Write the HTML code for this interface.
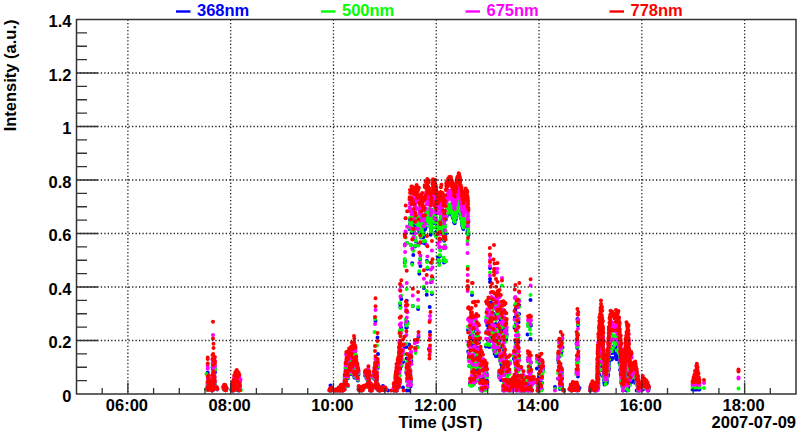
<!DOCTYPE html>
<html><head><meta charset="utf-8"><style>
html,body{margin:0;padding:0;background:#fff;width:800px;height:434px;overflow:hidden}
svg{display:block}
.t{font-family:"Liberation Sans",sans-serif;font-weight:bold;font-size:16.5px}
</style></head><body><svg width="800" height="434" viewBox="0 0 800 434"><path d="M207.7 372.5h0M207.5 388.2h0M207.6 385.0h0M207.8 381.4h0M207.8 384.8h0M208.0 385.0h0M208.1 390.0h0M208.3 380.7h0M208.3 384.3h0M208.4 380.8h0M208.5 385.5h0M208.7 382.7h0M208.8 380.7h0M209.0 387.0h0M212.5 367.5h0M212.5 384.1h0M212.7 381.0h0M212.7 370.0h0M212.8 383.8h0M212.9 379.5h0M213.0 367.0h0M213.0 373.9h0M213.1 379.0h0M213.2 366.7h0M213.3 378.6h0M213.4 370.6h0M213.5 384.1h0M213.6 385.5h0M213.6 389.7h0M213.7 383.6h0M213.8 378.1h0M213.9 386.5h0M213.9 388.1h0M214.0 388.7h0M214.1 371.6h0M214.2 370.2h0M214.3 388.4h0M214.3 383.4h0M214.4 382.1h0M214.5 371.2h0M214.6 381.4h0M214.6 383.9h0M214.8 384.4h0M214.8 372.8h0M214.9 368.8h0M215.0 372.1h0M209.4 388.6h0M209.6 385.5h0M209.8 384.9h0M210.0 386.9h0M210.2 385.8h0M210.5 384.4h0M210.7 387.1h0M210.9 384.7h0M211.0 389.6h0M211.3 384.5h0M211.4 389.1h0M211.8 387.4h0M211.8 387.7h0M212.1 390.5h0M212.3 385.7h0M212.6 388.6h0M212.8 386.2h0M213.0 388.6h0M216.4 389.1h0M216.8 388.4h0M217.0 388.9h0M217.3 389.4h0M223.4 388.0h0M223.6 388.0h0M224.0 389.5h0M224.0 387.2h0M224.2 386.9h0M224.6 389.7h0M224.8 387.3h0M224.9 389.9h0M225.2 388.8h0M225.3 387.0h0M225.5 390.3h0M225.8 388.1h0M226.0 390.2h0M226.2 389.1h0M226.3 388.8h0M226.5 388.9h0M231.5 390.0h0M231.8 390.3h0M231.8 390.4h0M232.1 386.3h0M232.3 388.1h0M232.5 385.0h0M232.8 384.8h0M233.0 385.2h0M233.1 388.1h0M233.2 390.5h0M233.6 390.3h0M233.7 383.6h0M234.0 390.3h0M234.2 384.4h0M234.2 380.9h0M234.4 386.6h0M234.6 383.7h0M234.9 384.9h0M235.1 387.3h0M235.2 379.3h0M235.5 378.6h0M235.8 385.2h0M235.8 380.5h0M236.0 389.7h0M236.4 381.3h0M236.5 377.5h0M236.7 388.5h0M236.8 377.2h0M237.1 389.4h0M237.3 383.8h0M237.5 378.3h0M237.6 381.8h0M237.9 379.1h0M238.0 384.3h0M238.3 385.4h0M238.6 383.6h0M238.6 379.0h0M238.9 380.2h0M239.1 386.2h0M239.4 380.2h0M239.6 384.2h0M239.8 390.3h0M239.9 387.5h0M238.6 390.6h0M329.5 390.4h0M329.8 389.4h0M330.0 389.5h0M330.5 388.6h0M330.6 389.7h0M330.9 390.5h0M331.3 388.2h0M330.5 385.5h0M335.0 390.4h0M335.1 390.5h0M335.4 390.3h0M335.6 390.2h0M335.7 389.9h0M336.1 390.1h0M336.3 389.7h0M336.5 389.6h0M336.7 389.6h0M336.8 389.6h0M337.0 389.5h0M337.3 389.7h0M337.4 389.6h0M337.5 390.5h0M337.9 389.3h0M338.0 389.9h0M338.1 390.2h0M338.4 390.2h0M338.6 388.6h0M338.8 388.1h0M339.0 389.2h0M339.2 388.0h0M339.4 390.3h0M339.6 388.0h0M339.9 390.4h0M339.9 388.3h0M340.1 390.3h0M340.3 390.2h0M340.7 386.3h0M340.7 390.5h0M341.1 386.0h0M341.2 389.8h0M341.4 386.0h0M341.6 388.7h0M341.8 390.0h0M341.9 386.9h0M342.3 388.8h0M342.4 386.4h0M342.6 386.4h0M342.7 386.8h0M342.9 390.5h0M343.2 390.0h0M343.5 385.7h0M343.6 388.8h0M343.8 385.9h0M344.0 386.4h0M344.1 389.6h0M344.5 389.6h0M344.6 382.5h0M344.7 378.0h0M345.0 382.5h0M345.1 384.1h0M345.4 375.0h0M345.6 368.2h0M345.7 368.6h0M346.0 382.2h0M346.3 368.8h0M346.4 365.6h0M346.6 364.3h0M346.9 366.1h0M347.0 364.0h0M347.1 376.6h0M347.4 364.8h0M347.6 386.0h0M347.7 386.2h0M348.1 365.0h0M347.9 378.3h0M348.3 359.1h0M348.4 361.8h0M348.7 359.7h0M348.8 374.3h0M349.1 357.0h0M349.4 371.6h0M349.6 374.2h0M349.8 357.0h0M350.1 370.0h0M350.2 361.9h0M350.4 356.7h0M350.7 374.1h0M350.9 369.0h0M351.0 362.5h0M351.2 355.4h0M351.5 360.9h0M351.7 357.3h0M351.9 352.2h0M352.2 356.1h0M352.4 371.6h0M352.5 357.3h0M352.9 364.5h0M353.0 369.6h0M353.4 354.4h0M353.6 367.2h0M353.6 364.5h0M354.0 351.7h0M353.9 376.0h0M354.3 349.0h0M354.4 377.5h0M354.6 354.0h0M354.7 364.1h0M355.0 375.5h0M355.1 376.9h0M355.3 354.9h0M355.6 356.3h0M355.7 368.5h0M356.1 377.9h0M356.3 363.6h0M356.4 366.9h0M356.5 377.0h0M356.7 370.6h0M357.1 370.3h0M357.3 368.9h0M357.4 370.1h0M357.6 374.8h0M357.8 380.4h0M358.0 373.2h0M358.2 372.8h0M358.5 374.4h0M358.6 389.6h0M358.7 387.0h0M359.2 390.1h0M359.5 388.2h0M359.8 387.9h0M359.9 390.1h0M360.4 390.3h0M360.6 388.6h0M360.9 389.0h0M361.2 390.3h0M361.5 390.1h0M361.9 390.4h0M362.0 387.6h0M362.5 389.6h0M362.6 390.2h0M362.9 387.1h0M363.3 389.0h0M363.6 387.6h0M364.0 387.8h0M364.5 386.6h0M364.7 386.6h0M364.9 375.2h0M365.1 374.9h0M365.4 386.6h0M365.7 375.6h0M365.9 374.3h0M366.0 376.3h0M366.2 375.3h0M366.5 378.3h0M366.7 375.7h0M366.8 387.1h0M367.2 374.7h0M367.3 379.5h0M367.5 385.0h0M367.7 380.3h0M368.1 386.5h0M368.2 380.6h0M368.4 371.2h0M368.7 384.1h0M368.9 381.8h0M369.2 384.9h0M369.4 378.0h0M369.5 375.4h0M369.8 378.1h0M370.0 387.5h0M370.0 390.4h0M370.2 388.8h0M370.6 384.7h0M370.9 386.1h0M371.2 389.7h0M371.6 390.6h0M371.7 389.8h0M372.0 387.9h0M372.5 387.8h0M372.8 386.4h0M372.9 387.4h0M373.9 375.4h0M374.1 378.7h0M374.4 372.4h0M374.6 373.4h0M374.8 387.0h0M375.1 369.5h0M375.2 368.5h0M375.4 386.1h0M375.5 363.1h0M375.9 383.0h0M376.0 377.5h0M376.3 371.3h0M376.3 388.5h0M376.5 380.4h0M376.7 381.9h0M377.0 376.2h0M377.1 379.2h0M377.4 385.4h0M377.7 365.4h0M377.7 368.0h0M378.0 388.1h0M378.2 386.0h0M378.4 390.2h0M375.5 321.0h0M377.5 337.5h0M378.0 354.0h0M379.6 389.2h0M379.8 390.6h0M380.0 388.5h0M380.3 388.5h0M380.6 388.6h0M381.0 387.9h0M381.2 388.8h0M381.7 388.9h0M381.8 389.9h0M382.2 388.6h0M382.6 390.0h0M382.9 389.3h0M383.2 388.8h0M383.3 388.0h0M383.8 389.0h0M384.0 389.1h0M384.3 390.3h0M384.7 388.4h0M384.8 388.0h0M385.3 388.1h0M385.4 389.8h0M385.8 389.7h0M383.0 386.0h0M388.0 390.5h0M396.6 390.6h0M396.7 390.6h0M394.8 390.6h0M394.1 390.2h0M395.1 390.6h0M393.6 390.6h0M394.7 390.6h0M397.1 384.4h0M396.3 388.2h0M394.4 385.8h0M394.6 390.6h0M395.4 384.1h0M395.9 382.9h0M396.9 390.6h0M396.5 384.8h0M395.8 378.7h0M395.7 376.7h0M395.6 376.5h0M397.5 379.0h0M396.6 377.5h0M396.3 374.5h0M396.0 380.1h0M399.0 372.5h0M396.6 384.4h0M397.2 375.7h0M399.4 373.1h0M398.1 374.1h0M396.4 372.7h0M398.6 370.0h0M396.5 371.1h0M399.9 367.5h0M400.1 368.9h0M400.7 365.0h0M400.1 364.1h0M397.6 365.5h0M398.1 367.6h0M398.8 368.2h0M398.6 364.6h0M399.0 363.0h0M401.3 366.0h0M400.4 358.5h0M400.6 359.8h0M400.2 357.6h0M401.8 361.9h0M399.1 357.2h0M399.0 353.3h0M398.9 356.6h0M399.5 352.8h0M402.9 354.2h0M400.0 354.9h0M399.7 353.7h0M403.1 362.1h0M400.5 349.7h0M403.1 350.3h0M396.0 390.1h0M396.3 390.0h0M396.5 382.8h0M396.8 388.0h0M397.3 383.7h0M397.4 382.7h0M397.8 381.7h0M398.0 387.6h0M398.3 385.0h0M398.7 387.5h0M399.0 386.0h0M399.4 381.4h0M399.5 383.4h0M400.0 381.9h0M403.0 387.5h0M406.4 372.8h0M406.7 358.5h0M406.9 390.6h0M407.1 370.7h0M407.3 380.9h0M407.6 372.7h0M407.6 380.6h0M408.0 378.1h0M408.0 380.0h0M408.3 363.1h0M408.4 379.2h0M408.7 372.0h0M408.8 365.3h0M409.0 380.5h0M409.3 390.6h0M409.5 368.7h0M409.8 362.9h0M409.8 361.5h0M410.0 382.0h0M410.4 373.8h0M410.6 386.2h0M410.7 360.3h0M410.9 356.0h0M411.1 381.5h0M411.2 357.0h0M411.4 361.2h0M409.0 344.5h0M418.5 337.0h0M430.0 332.0h0M429.0 349.0h0M429.7 307.0h0M399.5 343.2h0M399.7 341.3h0M400.0 303.8h0M400.4 307.0h0M400.6 331.6h0M401.0 327.4h0M401.3 298.9h0M404.6 346.9h0M404.7 262.6h0M404.9 262.3h0M405.1 261.3h0M405.5 244.1h0M405.7 233.3h0M405.9 324.2h0M406.0 324.7h0M406.2 327.7h0M406.4 346.9h0M406.7 300.7h0M406.8 327.4h0M407.1 243.1h0M407.4 322.1h0M409.5 228.9h0M409.6 226.1h0M409.9 219.6h0M410.1 223.0h0M410.3 227.3h0M410.4 221.4h0M410.7 221.1h0M410.9 245.1h0M411.1 218.9h0M411.3 228.5h0M411.4 218.4h0M411.7 232.7h0M411.8 229.1h0M412.1 216.9h0M412.2 263.2h0M412.6 228.6h0M412.8 306.0h0M413.0 231.5h0M413.1 224.4h0M413.3 255.1h0M413.5 223.1h0M413.7 218.9h0M413.9 237.0h0M414.2 222.3h0M414.3 224.0h0M414.4 233.1h0M414.7 223.8h0M414.8 348.2h0M415.0 246.6h0M415.2 239.5h0M415.2 225.8h0M415.4 222.5h0M415.6 222.3h0M415.8 241.4h0M415.8 218.4h0M416.0 222.9h0M416.2 219.7h0M416.3 218.8h0M416.6 217.9h0M416.7 217.0h0M416.9 217.6h0M416.9 226.6h0M417.0 218.9h0M417.2 226.7h0M417.4 347.1h0M417.7 221.3h0M417.7 218.5h0M418.1 308.9h0M418.2 221.7h0M418.4 244.6h0M418.6 230.1h0M418.9 217.7h0M419.1 225.1h0M419.3 231.4h0M419.3 273.7h0M419.6 229.9h0M419.9 224.8h0M420.0 232.4h0M420.2 259.2h0M420.4 265.9h0M420.6 227.2h0M420.8 229.9h0M421.0 237.6h0M421.3 223.6h0M421.5 231.5h0M421.5 228.7h0M421.8 233.8h0M422.1 229.7h0M422.2 224.2h0M422.4 234.6h0M422.6 235.5h0M422.8 235.5h0M423.1 237.4h0M423.3 234.9h0M423.4 242.8h0M423.5 235.8h0M423.8 236.2h0M424.0 230.6h0M423.9 288.0h0M424.3 234.7h0M424.4 227.0h0M424.7 215.5h0M424.8 217.7h0M425.0 243.6h0M425.1 229.2h0M425.5 216.7h0M425.6 214.0h0M425.7 227.3h0M426.0 217.2h0M426.2 218.2h0M426.3 222.0h0M426.7 215.7h0M426.7 294.7h0M426.9 261.1h0M427.3 212.2h0M427.4 268.7h0M427.5 220.1h0M427.8 213.6h0M428.0 212.8h0M428.3 217.4h0M428.3 223.0h0M428.7 213.2h0M428.7 211.7h0M428.9 223.5h0M429.3 220.3h0M429.4 218.3h0M429.7 218.9h0M429.9 222.4h0M430.1 223.0h0M430.2 224.2h0M430.4 227.0h0M430.6 234.8h0M430.9 282.2h0M431.0 230.9h0M431.2 229.9h0M431.3 222.0h0M431.6 228.3h0M431.9 294.0h0M431.9 262.8h0M432.1 220.8h0M432.5 278.3h0M432.6 214.9h0M432.9 212.9h0M433.1 210.1h0M432.9 217.4h0M433.2 220.4h0M433.5 216.1h0M433.6 220.3h0M433.7 218.1h0M433.9 222.9h0M434.2 213.4h0M434.3 219.5h0M434.5 233.5h0M434.8 221.2h0M434.9 213.6h0M435.2 232.6h0M435.4 222.8h0M435.4 211.3h0M435.6 218.7h0M435.8 217.4h0M436.1 235.8h0M436.2 221.4h0M436.4 221.1h0M436.7 231.6h0M436.8 222.2h0M437.1 226.7h0M437.3 224.0h0M437.3 226.7h0M437.6 226.9h0M437.8 231.9h0M437.9 257.6h0M438.2 222.1h0M438.2 225.9h0M438.5 223.7h0M438.6 232.7h0M438.8 223.9h0M439.2 262.4h0M439.2 224.7h0M439.4 261.7h0M439.7 229.0h0M439.8 256.3h0M440.1 224.4h0M440.3 247.7h0M440.4 249.4h0M440.7 220.9h0M440.8 217.1h0M441.0 219.4h0M441.2 229.5h0M441.4 216.6h0M441.5 229.8h0M441.7 223.7h0M442.0 228.3h0M442.1 227.2h0M442.3 228.1h0M442.5 225.6h0M442.7 230.5h0M442.9 239.3h0M443.1 233.9h0M443.3 234.0h0M443.5 228.8h0M443.6 260.1h0M443.9 230.8h0M444.0 262.6h0M444.2 240.7h0M444.4 233.3h0M444.5 239.2h0M444.8 248.0h0M445.0 230.2h0M445.1 226.2h0M445.4 261.1h0M445.6 261.4h0M445.8 233.7h0M445.8 219.4h0M446.1 217.1h0M446.2 211.9h0M446.3 213.9h0M446.5 211.5h0M446.5 216.9h0M446.7 211.0h0M446.8 211.3h0M447.0 215.0h0M447.2 213.5h0M447.4 211.5h0M447.5 213.2h0M447.6 210.3h0M447.8 214.7h0M448.0 212.8h0M448.1 208.4h0M448.2 207.9h0M448.5 213.1h0M448.6 210.5h0M448.8 210.9h0M448.9 208.6h0M449.0 209.3h0M449.2 211.9h0M449.2 206.4h0M449.5 210.0h0M449.6 207.4h0M449.7 210.5h0M449.9 207.9h0M450.1 207.7h0M450.2 209.1h0M450.4 211.9h0M450.5 211.2h0M450.6 211.9h0M450.9 208.4h0M450.9 206.3h0M451.0 210.9h0M451.2 208.6h0M451.5 212.5h0M451.6 209.1h0M451.7 212.0h0M451.8 210.9h0M451.9 214.9h0M452.2 215.2h0M452.4 212.6h0M452.4 210.7h0M452.6 216.1h0M452.7 217.6h0M452.9 211.7h0M453.0 215.0h0M453.3 217.8h0M453.4 214.4h0M453.5 219.1h0M453.7 217.4h0M453.8 219.0h0M454.0 222.3h0M454.2 217.8h0M454.3 218.1h0M454.5 222.6h0M454.5 216.9h0M454.7 223.3h0M454.9 218.2h0M455.0 215.8h0M455.2 217.7h0M455.3 217.0h0M455.4 218.4h0M455.5 213.6h0M455.8 219.4h0M455.9 215.5h0M456.1 215.6h0M456.1 216.3h0M456.3 214.6h0M456.5 216.3h0M456.7 211.7h0M456.8 209.9h0M457.0 207.3h0M457.0 211.1h0M457.2 208.1h0M457.5 211.5h0M457.5 206.4h0M457.7 205.9h0M457.8 210.4h0M458.0 209.4h0M458.1 208.4h0M458.3 206.0h0M458.4 206.2h0M458.6 203.5h0M458.8 207.0h0M458.9 203.6h0M459.0 208.7h0M459.2 204.4h0M459.3 206.5h0M459.5 207.4h0M459.6 212.7h0M459.9 206.6h0M459.9 212.0h0M460.2 209.5h0M460.2 210.6h0M460.4 208.8h0M460.5 214.3h0M460.7 213.6h0M460.8 214.1h0M461.0 217.8h0M461.1 218.6h0M461.4 215.5h0M461.5 215.6h0M461.7 218.1h0M461.8 220.7h0M461.9 222.7h0M462.0 223.6h0M462.3 225.3h0M462.4 226.2h0M462.5 221.2h0M462.7 222.2h0M462.9 226.3h0M463.0 228.3h0M463.1 225.5h0M463.3 228.2h0M463.4 229.1h0M463.6 226.8h0M463.7 222.1h0M463.9 227.0h0M464.0 224.7h0M464.2 224.6h0M464.4 220.7h0M464.4 225.4h0M464.5 221.9h0M464.8 219.7h0M464.9 225.5h0M465.1 219.0h0M465.2 219.0h0M465.4 222.2h0M465.5 216.6h0M465.7 216.4h0M465.8 218.1h0M465.9 218.0h0M466.2 221.3h0M466.3 219.2h0M466.5 219.3h0M466.6 222.4h0M466.7 222.5h0M466.8 221.1h0M467.1 218.3h0M467.2 222.6h0M467.4 219.4h0M467.5 223.0h0M467.6 224.2h0M467.7 226.4h0M467.9 225.1h0M468.1 229.9h0M468.1 227.4h0M468.4 233.0h0M468.5 235.0h0M467.5 232.0h0M472.0 295.0h0M468.0 330.0h0M468.2 351.4h0M468.6 330.3h0M468.7 357.7h0M469.0 354.6h0M469.3 366.1h0M469.5 329.9h0M469.7 351.1h0M469.8 341.9h0M470.3 336.5h0M470.3 361.3h0M470.7 356.9h0M471.0 333.3h0M471.1 338.0h0M471.3 339.6h0M471.7 328.9h0M471.9 332.9h0M472.1 368.8h0M472.3 368.8h0M472.7 345.7h0M472.9 327.1h0M473.1 339.8h0M473.3 362.0h0M473.6 344.9h0M473.7 324.9h0M474.1 353.9h0M470.0 383.8h0M470.6 385.0h0M471.1 383.4h0M471.9 379.1h0M472.2 385.2h0M473.1 370.7h0M473.7 379.3h0M474.2 383.1h0M474.5 380.1h0M475.5 380.5h0M476.0 381.2h0M474.5 337.8h0M474.7 327.5h0M475.0 356.5h0M475.3 355.5h0M475.8 331.2h0M476.1 369.1h0M476.4 363.5h0M476.5 334.6h0M476.9 343.3h0M477.2 358.0h0M477.6 348.1h0M477.7 341.7h0M478.2 354.4h0M478.3 337.7h0M478.7 368.9h0M479.0 342.8h0M479.4 367.2h0M479.6 353.6h0M479.9 364.9h0M480.3 352.5h0M480.6 358.0h0M480.9 361.0h0M479.0 375.9h0M479.2 379.7h0M479.5 365.7h0M480.0 368.8h0M480.1 388.6h0M480.4 370.6h0M480.7 383.0h0M481.0 369.1h0M481.4 390.5h0M481.6 390.6h0M482.1 363.7h0M482.4 390.6h0M482.7 379.0h0M483.0 362.8h0M483.3 387.6h0M483.6 370.1h0M483.9 370.0h0M484.1 382.5h0M484.3 375.8h0M484.6 370.9h0M484.9 370.3h0M485.2 388.9h0M485.5 386.2h0M485.9 369.6h0M486.3 373.8h0M486.4 385.6h0M486.7 373.4h0M487.1 380.7h0M487.4 384.3h0M486.0 346.4h0M486.1 320.8h0M486.5 331.6h0M486.9 321.4h0M487.2 320.7h0M487.3 325.2h0M487.7 322.5h0M488.1 343.0h0M488.3 345.1h0M488.4 328.5h0M488.8 324.9h0M489.0 317.9h0M489.3 347.0h0M489.5 341.6h0M490.0 328.4h0M490.3 334.6h0M490.4 334.6h0M490.8 333.7h0M491.2 325.6h0M491.2 337.1h0M491.7 324.9h0M491.8 340.8h0M492.2 329.8h0M492.5 325.1h0M492.7 318.5h0M492.9 339.5h0M493.3 346.1h0M493.5 347.4h0M493.7 349.7h0M494.1 350.5h0M494.3 348.5h0M494.6 353.7h0M495.0 334.9h0M495.2 335.7h0M495.5 313.7h0M495.9 324.1h0M496.0 356.3h0M496.3 350.8h0M496.8 315.3h0M496.9 313.8h0M497.3 328.5h0M497.5 327.9h0M497.6 318.1h0M498.1 340.4h0M498.3 343.4h0M498.5 355.9h0M498.8 354.4h0M499.0 314.1h0M499.4 316.6h0M499.6 341.7h0M499.9 322.4h0M500.2 330.8h0M500.7 325.1h0M500.8 320.5h0M501.0 347.0h0M501.5 323.9h0M501.7 329.9h0M501.8 332.1h0M502.4 354.7h0M502.5 335.9h0M502.8 326.0h0M503.2 331.9h0M503.3 319.2h0M503.7 349.8h0M504.0 353.2h0M504.2 329.1h0M504.5 323.6h0M504.9 338.4h0M504.9 323.9h0M505.2 339.4h0M505.5 325.0h0M506.0 339.7h0M506.3 333.8h0M506.4 336.9h0M506.7 334.4h0M490.0 268.0h0M490.0 279.0h0M490.0 282.0h0M490.7 302.4h0M491.7 305.0h0M493.0 304.1h0M494.5 307.7h0M496.1 300.8h0M497.5 308.0h0M498.6 305.9h0M499.6 304.4h0M499.2 376.3h0M499.5 373.9h0M499.7 357.8h0M500.3 360.9h0M501.0 380.1h0M501.2 364.2h0M501.8 367.4h0M502.2 371.8h0M502.5 375.2h0M503.1 371.8h0M503.6 366.8h0M504.2 359.2h0M504.3 368.3h0M504.7 357.8h0M505.1 358.7h0M505.9 365.7h0M506.0 372.5h0M506.5 364.4h0M507.1 374.0h0M507.5 369.9h0M507.9 366.2h0M508.4 374.5h0M508.7 364.6h0M509.4 372.9h0M510.0 362.9h0M503.2 390.4h0M503.7 386.2h0M504.1 390.6h0M504.6 382.2h0M504.9 381.9h0M505.1 386.3h0M505.6 388.3h0M506.2 382.5h0M506.6 389.8h0M506.9 389.3h0M507.6 387.8h0M507.7 385.7h0M508.5 384.8h0M508.9 385.8h0M509.1 390.6h0M509.9 384.0h0M510.1 388.2h0M510.7 381.2h0M511.1 390.6h0M511.7 390.0h0M511.8 382.5h0M512.3 389.0h0M512.7 384.9h0M513.4 383.8h0M513.7 389.9h0M514.2 384.7h0M514.8 387.8h0M514.5 327.7h0M514.8 317.4h0M515.1 350.5h0M515.4 309.4h0M515.7 343.0h0M516.0 324.1h0M516.3 350.7h0M516.6 320.9h0M516.9 331.4h0M517.3 336.1h0M517.5 357.1h0M517.9 321.2h0M518.2 352.3h0M518.5 342.1h0M518.6 322.3h0M519.1 314.0h0M519.3 305.4h0M513.0 381.4h0M513.2 389.1h0M513.5 385.9h0M513.9 358.8h0M514.2 389.0h0M514.4 380.3h0M514.9 362.8h0M515.0 360.7h0M515.3 381.6h0M515.7 368.1h0M516.1 375.3h0M516.2 386.8h0M516.6 390.6h0M517.0 352.7h0M517.1 369.1h0M517.6 370.9h0M517.7 385.8h0M518.0 368.3h0M518.3 380.4h0M518.8 358.8h0M519.1 369.6h0M521.0 390.6h0M521.2 375.4h0M521.9 379.8h0M522.0 390.6h0M522.6 390.6h0M522.9 388.5h0M523.5 377.8h0M523.7 389.8h0M524.2 390.6h0M515.7 380.0h0M516.7 389.8h0M517.4 387.2h0M517.7 385.5h0M518.5 386.7h0M518.9 382.0h0M519.5 390.6h0M520.4 386.3h0M520.6 390.6h0M521.4 381.7h0M522.1 388.3h0M522.7 387.2h0M523.1 390.6h0M523.9 382.9h0M524.3 390.6h0M524.8 390.6h0M525.5 390.6h0M526.4 386.1h0M526.5 381.9h0M527.7 389.7h0M527.8 390.6h0M528.6 390.4h0M529.1 382.3h0M530.1 384.6h0M530.5 387.5h0M531.2 381.8h0M531.8 390.6h0M532.1 390.6h0M532.8 378.6h0M533.4 380.9h0M533.9 382.7h0M527.8 359.6h0M528.2 361.0h0M528.6 370.9h0M529.0 390.6h0M529.4 376.6h0M529.7 361.0h0M530.0 366.9h0M530.4 388.3h0M530.9 362.4h0M531.1 376.5h0M531.4 385.7h0M530.5 300.0h0M527.5 334.5h0M530.5 339.0h0M528.0 325.2h0M528.3 325.8h0M528.6 325.3h0M529.0 325.5h0M529.8 324.4h0M530.2 325.1h0M530.4 325.7h0M531.0 325.5h0M536.9 368.6h0M537.3 382.4h0M537.6 390.6h0M537.8 388.8h0M538.2 388.2h0M538.6 387.8h0M538.9 376.4h0M539.1 361.8h0M539.5 365.5h0M539.7 390.6h0M540.1 380.5h0M540.4 372.2h0M540.6 387.8h0M541.0 372.2h0M541.3 389.9h0M541.5 360.4h0M541.7 388.9h0M542.0 383.0h0M542.3 364.9h0M542.8 368.2h0M543.1 369.3h0M555.0 387.0h0M558.1 378.6h0M558.1 360.1h0M558.4 357.2h0M558.6 362.6h0M558.9 367.0h0M559.0 346.6h0M559.2 373.7h0M559.4 346.3h0M559.5 356.4h0M559.9 388.9h0M560.0 380.0h0M560.3 372.1h0M560.3 385.1h0M560.5 367.1h0M560.7 341.7h0M561.1 353.2h0M561.1 351.3h0M561.4 382.2h0M561.6 351.5h0M561.8 372.8h0M562.0 378.6h0M562.1 387.0h0M562.5 347.2h0M563.0 389.8h0M563.4 389.9h0M563.7 390.4h0M563.8 390.6h0M569.6 389.5h0M569.7 388.8h0M569.9 388.5h0M570.2 389.4h0M570.2 388.6h0M570.5 388.0h0M570.8 385.4h0M571.0 385.8h0M571.1 386.4h0M571.2 385.4h0M571.4 388.8h0M571.6 390.5h0M571.9 387.6h0M572.2 387.9h0M572.2 384.9h0M572.5 386.3h0M572.8 383.0h0M573.0 389.4h0M573.1 388.8h0M573.2 386.7h0M573.4 383.8h0M573.8 385.2h0M573.9 388.8h0M574.2 390.0h0M574.3 385.9h0M574.4 386.4h0M574.8 383.6h0M574.9 389.1h0M575.2 388.1h0M575.3 389.2h0M575.6 390.1h0M575.8 384.4h0M576.0 385.3h0M576.0 388.6h0M576.3 385.5h0M576.5 385.7h0M576.8 385.1h0M576.9 384.7h0M577.1 389.9h0M577.3 387.1h0M577.4 388.1h0M577.7 386.5h0M577.9 386.6h0M578.1 387.9h0M578.3 387.9h0M578.4 390.2h0M579.5 388.0h0M576.5 373.4h0M576.6 344.0h0M576.8 363.9h0M576.8 390.6h0M577.0 359.6h0M577.1 342.0h0M577.3 348.0h0M577.4 319.1h0M577.4 346.7h0M577.6 345.4h0M577.7 372.9h0M577.9 376.5h0M578.0 334.6h0M578.0 325.2h0M578.2 359.1h0M578.3 324.6h0M578.4 357.5h0M590.1 390.5h0M590.1 390.4h0M590.4 388.4h0M590.7 388.0h0M590.7 389.0h0M591.1 389.0h0M591.1 387.0h0M591.4 388.9h0M591.7 387.4h0M591.8 387.1h0M592.0 389.0h0M592.2 389.2h0M592.4 385.4h0M592.5 387.3h0M592.9 389.8h0M593.0 390.1h0M593.2 389.1h0M593.4 387.3h0M593.7 386.0h0M593.7 386.1h0M594.0 388.3h0M594.2 386.3h0M594.4 386.9h0M594.7 390.4h0M594.9 388.5h0M595.1 386.2h0M595.3 387.2h0M595.4 389.3h0M595.5 386.4h0M595.8 388.5h0M595.9 389.3h0M596.1 389.1h0M596.4 389.8h0M596.6 387.5h0M596.8 389.0h0M597.0 388.5h0M596.7 390.6h0M598.0 388.2h0M597.8 386.4h0M598.1 384.5h0M597.7 386.8h0M598.2 387.0h0M597.3 383.7h0M597.2 382.0h0M597.5 385.0h0M598.4 385.6h0M598.0 383.8h0M598.4 383.0h0M597.5 380.6h0M597.3 379.5h0M597.7 380.4h0M598.1 378.0h0M597.6 376.0h0M597.8 380.6h0M598.5 376.1h0M598.2 375.7h0M597.2 377.0h0M597.5 377.2h0M598.4 373.0h0M599.1 374.7h0M598.1 372.1h0M597.5 374.6h0M597.9 371.3h0M597.6 371.8h0M598.0 368.1h0M597.7 370.2h0M598.6 369.2h0M599.0 370.1h0M597.8 366.1h0M599.4 364.6h0M599.5 364.2h0M599.1 362.8h0M599.5 364.7h0M598.8 362.8h0M599.1 366.0h0M598.4 367.7h0M598.2 361.1h0M599.8 359.9h0M599.5 358.5h0M600.0 358.5h0M599.4 358.2h0M599.9 360.4h0M598.9 360.0h0M600.3 355.6h0M599.2 355.7h0M599.8 353.7h0M599.7 353.2h0M600.2 355.0h0M599.2 354.9h0M599.9 354.8h0M599.5 350.0h0M599.3 353.7h0M600.0 354.9h0M600.5 351.6h0M601.1 348.9h0M600.5 347.1h0M601.1 345.8h0M600.6 344.6h0M601.6 344.2h0M601.1 346.6h0M602.0 349.5h0M601.8 346.2h0M602.1 351.6h0M602.2 346.5h0M600.6 350.3h0M600.8 348.2h0M601.8 351.3h0M600.7 349.5h0M601.5 351.5h0M601.7 350.3h0M602.2 352.3h0M602.4 351.4h0M602.9 353.9h0M601.2 353.7h0M602.2 352.8h0M602.9 355.8h0M601.8 357.0h0M601.4 359.7h0M603.2 356.1h0M602.0 359.1h0M603.1 357.5h0M601.5 360.8h0M603.4 359.4h0M602.6 364.3h0M602.8 360.3h0M602.8 362.9h0M602.7 364.5h0M602.4 362.5h0M603.8 364.9h0M603.6 369.5h0M602.8 367.4h0M603.2 370.3h0M603.0 365.3h0M602.6 366.6h0M603.0 369.8h0M603.6 373.6h0M602.7 369.8h0M603.3 370.6h0M602.6 370.2h0M604.0 374.2h0M603.7 371.8h0M604.3 371.7h0M603.1 376.2h0M605.1 375.3h0M604.8 375.6h0M604.9 377.3h0M604.3 375.5h0M604.3 376.6h0M605.6 379.0h0M604.0 380.3h0M604.6 384.5h0M604.2 382.8h0M604.2 379.1h0M604.8 380.8h0M604.5 382.8h0M606.1 382.6h0M605.7 382.9h0M605.1 381.2h0M606.9 381.5h0M606.7 383.2h0M605.3 380.0h0M606.1 378.1h0M606.8 379.4h0M605.7 376.2h0M606.9 377.1h0M606.8 376.5h0M607.7 376.0h0M608.0 375.9h0M607.9 374.1h0M608.1 373.1h0M607.4 371.1h0M606.5 373.4h0M608.2 374.3h0M608.1 373.6h0M607.5 371.8h0M607.5 369.2h0M608.0 368.6h0M608.8 369.5h0M608.6 369.6h0M608.7 370.2h0M608.2 364.7h0M609.0 368.2h0M608.1 364.8h0M608.4 362.6h0M608.5 363.5h0M608.6 361.4h0M608.9 364.1h0M609.0 362.7h0M608.8 366.6h0M608.7 360.6h0M609.8 358.1h0M608.7 358.3h0M609.3 360.8h0M608.8 361.2h0M608.9 357.9h0M609.9 358.3h0M609.9 357.8h0M609.4 359.5h0M610.3 352.3h0M610.2 352.0h0M609.5 351.7h0M610.4 351.6h0M610.0 350.0h0M610.2 348.9h0M611.7 349.1h0M611.1 347.8h0M612.2 353.1h0M611.8 349.5h0M612.4 347.0h0M613.1 347.7h0M614.1 351.8h0M615.5 349.6h0M614.3 351.4h0M614.3 352.3h0M615.1 350.1h0M616.5 348.9h0M616.5 348.2h0M616.0 349.5h0M618.4 346.7h0M618.0 350.0h0M617.6 355.8h0M618.2 350.2h0M619.1 353.2h0M618.9 353.8h0M618.5 353.2h0M618.7 354.7h0M618.4 355.2h0M619.8 354.5h0M619.4 357.5h0M619.4 354.3h0M619.2 359.7h0M618.6 356.1h0M619.9 356.7h0M618.8 357.8h0M619.5 359.5h0M619.0 359.0h0M620.8 360.7h0M619.9 361.4h0M619.4 363.0h0M620.6 362.5h0M620.1 361.8h0M620.5 364.6h0M621.5 366.8h0M620.8 368.7h0M621.2 367.9h0M620.4 365.3h0M620.6 366.7h0M620.4 370.4h0M621.5 369.1h0M620.1 369.9h0M621.7 369.4h0M620.9 370.2h0M621.2 371.5h0M620.9 373.0h0M620.8 373.4h0M621.8 373.8h0M620.8 374.8h0M622.4 379.1h0M622.3 378.1h0M621.9 378.6h0M621.7 381.3h0M621.7 378.4h0M621.8 383.9h0M622.6 380.0h0M621.2 381.3h0M621.3 382.9h0M621.6 381.7h0M622.5 382.1h0M621.8 384.6h0M621.4 381.9h0M622.8 387.8h0M622.8 383.8h0M622.6 387.2h0M623.1 387.8h0M622.9 387.2h0M623.2 388.0h0M622.7 387.6h0M623.0 390.6h0M623.4 387.7h0M623.3 385.6h0M623.6 390.1h0M623.9 385.1h0M624.1 384.0h0M624.4 386.8h0M624.1 384.8h0M623.8 382.9h0M624.2 383.4h0M623.5 383.0h0M624.7 380.4h0M624.2 380.3h0M624.8 379.4h0M624.7 379.0h0M624.8 377.9h0M624.9 378.0h0M624.8 377.0h0M625.7 379.8h0M624.4 375.1h0M625.7 374.6h0M624.9 376.6h0M624.4 371.9h0M625.7 372.8h0M625.9 371.9h0M624.8 372.0h0M625.1 372.8h0M626.5 373.3h0M626.0 371.9h0M625.2 369.8h0M626.2 369.5h0M625.9 372.1h0M626.3 368.5h0M626.1 367.5h0M625.4 365.0h0M627.2 363.7h0M625.8 365.3h0M625.5 362.9h0M625.6 364.1h0M626.2 361.9h0M626.6 360.0h0M626.9 361.0h0M626.8 361.4h0M626.5 359.9h0M627.9 357.5h0M627.7 356.2h0M627.6 358.3h0M627.2 358.7h0M627.8 355.4h0M626.9 355.5h0M626.5 358.6h0M628.4 358.3h0M627.6 358.6h0M628.5 354.6h0M627.8 356.7h0M627.4 361.1h0M627.5 357.1h0M628.4 357.9h0M627.7 364.1h0M628.7 360.5h0M628.2 359.3h0M627.8 364.3h0M628.5 367.4h0M627.8 365.4h0M628.8 362.5h0M627.6 367.7h0M629.0 364.9h0M628.5 366.8h0M628.9 365.9h0M628.0 366.8h0M628.5 368.1h0M629.1 368.5h0M628.6 369.7h0M628.8 370.7h0M629.9 370.1h0M629.7 370.7h0M628.7 376.3h0M630.1 373.0h0M629.0 371.4h0M629.4 375.5h0M629.5 375.6h0M629.1 377.1h0M629.5 377.0h0M630.8 375.2h0M629.6 380.0h0M630.0 380.0h0M631.3 382.2h0M631.1 380.3h0M630.4 380.2h0M630.5 383.0h0M630.6 380.1h0M631.0 379.2h0M631.1 381.5h0M632.2 381.6h0M632.9 379.5h0M632.8 378.1h0M633.3 377.1h0M634.4 377.5h0M635.2 379.2h0M635.3 380.6h0M635.7 378.7h0M635.6 376.4h0M636.0 379.7h0M636.8 381.9h0M635.3 382.9h0M636.6 383.6h0M636.8 380.8h0M636.9 383.5h0M636.4 382.2h0M637.3 382.1h0M638.2 382.9h0M636.6 390.6h0M638.4 385.7h0M638.5 386.8h0M638.3 386.6h0M638.1 390.6h0M638.6 390.3h0M638.9 390.0h0M639.5 390.6h0M638.2 389.3h0M639.4 390.6h0M641.2 389.8h0M640.3 390.3h0M640.9 389.9h0M641.7 389.8h0M641.4 389.6h0M643.2 385.6h0M642.9 389.6h0M642.7 388.2h0M642.7 388.6h0M644.2 384.6h0M644.2 386.4h0M645.9 387.3h0M646.7 388.1h0M647.7 386.9h0M646.6 388.5h0M647.1 387.2h0M648.4 390.6h0M647.7 390.4h0M610.3 353.6h0M610.5 346.4h0M611.7 359.6h0M612.8 349.9h0M613.0 358.0h0M613.7 349.3h0M614.6 352.9h0M615.9 355.7h0M616.7 359.3h0M617.6 346.5h0M618.0 352.2h0M619.2 355.3h0M621.0 374.7h0M621.9 385.3h0M622.9 374.3h0M624.1 363.3h0M625.2 361.6h0M626.3 383.5h0M626.7 390.6h0M628.4 387.3h0M628.6 383.7h0M630.2 381.9h0M631.1 370.3h0M631.7 364.4h0M641.9 388.3h0M642.3 386.4h0M642.7 386.8h0M643.0 385.4h0M643.2 386.9h0M643.4 385.4h0M643.9 384.8h0M644.0 384.6h0M644.4 387.6h0M644.7 386.0h0M644.9 387.9h0M645.3 388.1h0M645.5 386.0h0M645.9 385.1h0M646.1 384.9h0M646.5 387.9h0M646.9 387.8h0M647.1 386.3h0M647.4 386.6h0M647.6 387.3h0M648.1 388.2h0M648.2 387.7h0M648.5 387.9h0M648.9 388.4h0M692.5 389.5h0M692.6 389.6h0M692.7 389.4h0M692.8 389.5h0M692.9 389.6h0M693.0 389.6h0M693.1 389.6h0M693.2 389.5h0M693.3 389.5h0M693.4 389.5h0M693.5 389.1h0M693.6 389.0h0M693.7 389.0h0M693.8 389.3h0M693.9 389.2h0M694.0 389.4h0M694.1 389.4h0M694.2 388.9h0M694.3 388.7h0M694.4 389.6h0M694.5 389.0h0M694.6 388.7h0M694.7 389.6h0M694.8 389.6h0M694.9 388.7h0M695.0 388.3h0M695.1 388.3h0M695.2 388.3h0M695.3 389.3h0M695.4 389.3h0M695.5 389.3h0M695.6 388.6h0M695.7 388.2h0M695.8 388.2h0M695.9 389.5h0M696.0 389.5h0M696.1 388.7h0M696.2 387.7h0M696.3 388.2h0M696.4 389.1h0M696.5 387.6h0M696.6 388.0h0M696.7 389.5h0M696.8 387.8h0M696.9 387.4h0M697.0 388.4h0M697.1 387.7h0M697.2 388.9h0M697.3 388.6h0M697.4 388.9h0M697.5 388.9h0M697.6 387.8h0M697.7 389.0h0M697.8 388.3h0M697.9 388.9h0M698.0 389.3h0M698.1 389.3h0M698.2 389.0h0M698.3 389.6h0M698.4 389.6h0M698.5 388.6h0M698.6 389.4h0M698.7 389.1h0M698.8 389.4h0M698.9 389.0h0M699.0 389.4h0M699.1 389.5h0M699.2 389.4h0M699.3 389.4h0M699.4 389.6h0M699.5 389.3h0" fill="none" stroke="#0000ff" stroke-width="4.0" stroke-linecap="round"/><path d="M206.4 374.0h0M206.0 389.4h0M207.5 387.8h0M207.6 384.2h0M207.8 380.0h0M207.8 384.0h0M208.0 384.1h0M208.1 390.0h0M208.3 379.2h0M208.3 383.4h0M208.4 379.2h0M208.5 384.7h0M208.7 381.5h0M208.8 379.2h0M209.0 386.4h0M212.5 364.0h0M212.5 383.2h0M212.7 379.5h0M212.7 366.9h0M212.8 382.8h0M212.9 377.7h0M213.0 363.4h0M213.0 371.4h0M213.1 377.2h0M213.2 363.1h0M213.3 376.8h0M213.4 367.5h0M213.5 383.1h0M213.6 384.7h0M213.6 389.5h0M213.7 382.6h0M213.8 376.2h0M213.9 385.8h0M213.9 387.8h0M214.0 388.4h0M214.1 368.7h0M214.2 367.1h0M214.3 388.1h0M214.3 382.3h0M214.4 380.8h0M214.5 368.3h0M214.6 380.0h0M214.6 382.9h0M214.8 383.4h0M214.8 370.1h0M214.9 365.4h0M215.0 369.3h0M209.4 388.3h0M209.6 384.8h0M209.8 384.0h0M210.0 386.3h0M210.2 385.0h0M210.5 383.5h0M210.7 386.5h0M210.9 383.8h0M211.0 389.5h0M211.3 383.5h0M211.4 388.9h0M211.8 387.0h0M211.8 387.3h0M212.1 390.5h0M212.3 385.0h0M212.6 388.3h0M212.8 385.5h0M213.0 388.3h0M216.4 388.9h0M216.8 388.1h0M217.0 388.6h0M217.3 389.2h0M223.4 387.6h0M223.6 387.6h0M224.0 389.4h0M224.0 386.7h0M224.2 386.3h0M224.6 389.5h0M224.8 386.8h0M224.9 389.8h0M225.2 388.6h0M225.3 386.4h0M225.5 390.3h0M225.8 387.7h0M226.0 390.2h0M226.2 388.9h0M226.3 388.5h0M226.5 388.6h0M231.5 389.9h0M231.8 390.3h0M231.8 390.3h0M232.1 385.6h0M232.3 387.8h0M232.5 384.1h0M232.8 383.9h0M233.0 384.4h0M233.1 387.7h0M233.2 390.4h0M233.6 390.2h0M233.7 382.5h0M234.0 390.2h0M234.2 383.5h0M234.2 379.4h0M234.4 386.0h0M234.6 382.6h0M234.9 384.1h0M235.1 386.8h0M235.2 377.6h0M235.5 376.8h0M235.8 384.4h0M235.8 378.9h0M236.0 389.5h0M236.4 379.9h0M236.5 375.5h0M236.7 388.2h0M236.8 375.1h0M237.1 389.2h0M237.3 382.8h0M237.5 376.4h0M237.6 380.4h0M237.9 377.3h0M238.0 383.3h0M238.3 384.6h0M238.6 382.6h0M238.6 377.2h0M238.9 378.6h0M239.1 385.6h0M239.4 378.6h0M239.6 383.3h0M239.8 390.3h0M239.9 387.0h0M241.0 390.0h0M329.5 390.4h0M329.8 389.3h0M330.0 389.5h0M330.5 388.5h0M330.6 389.7h0M330.9 390.5h0M331.3 388.0h0M335.0 390.4h0M335.1 390.5h0M335.4 390.3h0M335.6 390.2h0M335.7 389.8h0M336.1 390.0h0M336.3 389.6h0M336.5 389.6h0M336.7 389.5h0M336.8 389.5h0M337.0 389.4h0M337.3 389.7h0M337.4 389.5h0M337.5 390.5h0M337.9 389.2h0M338.0 389.9h0M338.1 390.2h0M338.4 390.1h0M338.6 388.5h0M338.8 387.9h0M339.0 389.1h0M339.2 387.9h0M339.4 390.3h0M339.6 387.8h0M339.9 390.4h0M339.9 388.1h0M340.1 390.2h0M340.3 390.2h0M340.7 386.0h0M340.7 390.5h0M341.1 385.7h0M341.2 389.7h0M341.4 385.7h0M341.6 388.5h0M341.8 390.0h0M341.9 386.6h0M342.3 388.7h0M342.4 386.2h0M342.6 386.1h0M342.7 386.5h0M342.9 390.4h0M343.2 389.9h0M343.5 385.4h0M343.6 388.6h0M343.8 385.6h0M344.0 386.1h0M344.1 389.6h0M344.5 389.6h0M344.6 382.0h0M344.7 377.2h0M345.0 382.0h0M345.1 383.7h0M345.4 374.0h0M345.6 366.8h0M345.7 367.3h0M346.0 381.7h0M346.3 367.5h0M346.4 364.0h0M346.6 362.7h0M346.9 364.6h0M347.0 362.4h0M347.1 375.7h0M347.4 363.1h0M347.6 385.7h0M347.7 386.0h0M348.1 363.4h0M347.9 377.6h0M348.3 357.2h0M348.4 360.0h0M348.7 357.8h0M348.8 373.3h0M349.1 354.9h0M349.4 370.4h0M349.6 373.2h0M349.8 354.9h0M350.1 368.7h0M350.2 360.1h0M350.4 354.5h0M350.7 373.0h0M350.9 367.6h0M351.0 360.8h0M351.2 353.2h0M351.5 359.0h0M351.7 355.2h0M351.9 349.8h0M352.2 353.9h0M352.4 370.4h0M352.5 355.3h0M352.9 362.9h0M353.0 368.3h0M353.4 352.2h0M353.6 365.8h0M353.6 362.8h0M354.0 349.2h0M353.9 375.0h0M354.3 346.4h0M354.4 376.6h0M354.6 351.8h0M354.7 362.4h0M355.0 374.5h0M355.1 376.0h0M355.3 352.7h0M355.6 354.2h0M355.7 367.1h0M356.1 377.1h0M356.3 361.9h0M356.4 365.4h0M356.5 376.2h0M356.7 369.3h0M357.1 369.0h0M357.3 367.5h0M357.4 368.9h0M357.6 373.8h0M357.8 379.7h0M358.0 372.1h0M358.2 371.7h0M358.5 373.4h0M358.6 389.6h0M358.7 386.8h0M359.2 390.0h0M359.5 388.0h0M359.8 387.7h0M359.9 390.1h0M360.4 390.3h0M360.6 388.5h0M360.9 388.9h0M361.2 390.3h0M361.5 390.1h0M361.9 390.4h0M362.0 387.4h0M362.5 389.5h0M362.6 390.2h0M362.9 386.9h0M363.3 388.9h0M363.6 387.4h0M364.0 387.6h0M364.5 386.3h0M364.7 386.4h0M364.9 374.2h0M365.1 373.9h0M365.4 386.3h0M365.7 374.6h0M365.9 373.3h0M366.0 375.4h0M366.2 374.3h0M366.5 377.6h0M366.7 374.8h0M366.8 386.9h0M367.2 373.8h0M367.3 378.8h0M367.5 384.7h0M367.7 379.6h0M368.1 386.3h0M368.2 380.0h0M368.4 370.0h0M368.7 383.7h0M368.9 381.2h0M369.2 384.5h0M369.4 377.3h0M369.5 374.4h0M369.8 377.3h0M370.0 387.3h0M370.0 390.3h0M370.2 388.7h0M370.6 384.3h0M370.9 385.8h0M371.2 389.6h0M371.6 390.6h0M371.7 389.8h0M372.0 387.8h0M372.5 387.6h0M372.8 386.1h0M372.9 387.2h0M373.9 374.4h0M374.1 377.9h0M374.4 371.2h0M374.6 372.3h0M374.8 386.8h0M375.1 368.2h0M375.2 367.1h0M375.4 385.8h0M375.5 361.4h0M375.9 382.6h0M376.0 376.7h0M376.3 370.1h0M376.3 388.3h0M376.5 379.8h0M376.7 381.4h0M377.0 375.3h0M377.1 378.5h0M377.4 385.1h0M377.7 363.8h0M377.7 366.6h0M378.0 388.0h0M378.2 385.7h0M378.4 390.2h0M375.0 319.0h0M374.5 332.0h0M377.0 345.5h0M379.6 389.1h0M379.8 390.6h0M380.0 388.3h0M380.3 388.4h0M380.6 388.5h0M381.0 387.8h0M381.2 388.7h0M381.7 388.8h0M381.8 389.9h0M382.2 388.5h0M382.6 390.0h0M382.9 389.2h0M383.2 388.7h0M383.3 387.9h0M383.8 388.9h0M384.0 389.0h0M384.3 390.3h0M384.7 388.3h0M384.8 387.9h0M385.3 387.9h0M385.4 389.8h0M385.8 389.6h0M396.6 390.6h0M396.7 390.6h0M394.8 390.6h0M394.1 390.6h0M395.1 390.6h0M393.6 387.8h0M394.7 388.8h0M397.1 383.3h0M396.3 389.3h0M394.4 389.4h0M394.6 390.6h0M395.4 385.0h0M395.9 384.9h0M396.9 380.4h0M396.5 382.7h0M395.8 375.8h0M395.7 379.3h0M395.6 377.3h0M397.5 379.2h0M396.6 374.4h0M396.3 379.4h0M396.0 382.8h0M399.0 374.7h0M396.6 383.7h0M397.2 372.2h0M399.4 383.5h0M398.1 374.2h0M396.4 379.4h0M398.6 371.0h0M396.5 370.8h0M399.9 375.4h0M400.1 364.2h0M400.7 364.5h0M400.1 363.7h0M397.6 363.3h0M398.1 361.1h0M398.8 365.0h0M398.6 366.5h0M399.0 366.6h0M401.3 365.1h0M400.4 364.4h0M400.6 358.8h0M400.2 354.8h0M401.8 365.0h0M399.1 352.5h0M399.0 353.2h0M398.9 358.5h0M399.5 358.0h0M402.9 359.4h0M400.0 350.5h0M399.7 358.1h0M403.1 350.9h0M400.5 348.4h0M403.1 354.4h0M396.0 390.1h0M396.3 390.0h0M396.5 382.3h0M396.8 387.8h0M397.3 383.3h0M397.4 382.2h0M397.8 381.1h0M398.0 387.4h0M398.3 384.7h0M398.7 387.3h0M399.0 385.7h0M399.4 380.8h0M399.5 383.0h0M400.0 381.4h0M402.0 330.0h0M406.4 370.3h0M406.7 362.5h0M406.9 378.4h0M407.1 373.7h0M407.3 381.7h0M407.6 370.5h0M407.6 385.6h0M408.0 380.9h0M408.0 386.6h0M408.3 367.2h0M408.4 372.7h0M408.7 375.6h0M408.8 363.2h0M409.0 376.2h0M409.3 379.3h0M409.5 368.2h0M409.8 360.7h0M409.8 362.0h0M410.0 378.8h0M410.4 376.2h0M410.6 380.6h0M410.7 359.0h0M410.9 355.2h0M411.1 382.0h0M411.2 352.1h0M411.4 363.9h0M415.5 353.0h0M418.5 339.5h0M399.5 343.4h0M399.7 330.7h0M400.0 303.1h0M400.4 308.0h0M400.6 335.9h0M401.0 332.0h0M401.3 295.8h0M404.6 344.3h0M404.7 259.0h0M404.9 266.0h0M405.1 262.3h0M405.5 244.8h0M405.7 237.4h0M405.9 319.2h0M406.0 321.5h0M406.2 324.0h0M406.4 344.0h0M406.7 288.9h0M406.8 325.6h0M407.1 243.1h0M407.4 323.6h0M409.5 227.8h0M409.6 226.6h0M409.9 218.1h0M410.1 222.6h0M410.3 226.6h0M410.4 223.0h0M410.7 219.9h0M410.9 245.1h0M411.1 217.5h0M411.3 225.6h0M411.4 214.3h0M411.7 231.0h0M411.8 229.8h0M412.1 215.3h0M412.2 264.8h0M412.6 227.8h0M412.8 306.1h0M413.0 228.4h0M413.1 222.2h0M413.3 250.8h0M413.5 222.0h0M413.7 219.8h0M413.9 236.5h0M414.2 218.3h0M414.3 220.8h0M414.4 229.7h0M414.7 221.5h0M414.8 347.8h0M415.0 245.8h0M415.2 237.5h0M415.2 222.8h0M415.4 217.9h0M415.6 218.8h0M415.8 240.7h0M415.8 218.8h0M416.0 218.7h0M416.2 219.6h0M416.3 216.0h0M416.6 215.8h0M416.7 216.6h0M416.9 216.4h0M416.9 221.8h0M417.0 218.0h0M417.2 224.4h0M417.4 347.5h0M417.7 219.3h0M417.7 217.4h0M418.1 306.9h0M418.2 216.9h0M418.4 245.5h0M418.6 226.7h0M418.9 219.8h0M419.1 224.4h0M419.3 229.7h0M419.3 271.3h0M419.6 229.3h0M419.9 221.6h0M420.0 233.9h0M420.2 258.5h0M420.4 263.1h0M420.6 224.9h0M420.8 226.1h0M421.0 236.8h0M421.3 223.0h0M421.5 230.1h0M421.5 228.7h0M421.8 229.8h0M422.1 225.3h0M422.2 221.5h0M422.4 232.4h0M422.6 232.3h0M422.8 234.0h0M423.1 233.5h0M423.3 233.9h0M423.4 241.6h0M423.5 234.3h0M423.8 234.3h0M424.0 226.6h0M423.9 286.8h0M424.3 233.8h0M424.4 224.2h0M424.7 214.8h0M424.8 217.3h0M425.0 241.1h0M425.1 225.0h0M425.5 216.2h0M425.6 210.7h0M425.7 225.2h0M426.0 215.5h0M426.2 217.4h0M426.3 220.1h0M426.7 214.2h0M426.7 290.9h0M426.9 262.1h0M427.3 208.9h0M427.4 267.5h0M427.5 219.4h0M427.8 212.7h0M428.0 212.4h0M428.3 215.7h0M428.3 222.4h0M428.7 211.5h0M428.7 209.3h0M428.9 219.1h0M429.3 218.7h0M429.4 217.9h0M429.7 217.0h0M429.9 218.2h0M430.1 222.5h0M430.2 223.4h0M430.4 226.8h0M430.6 231.6h0M430.9 281.1h0M431.0 231.3h0M431.2 228.3h0M431.3 221.2h0M431.6 225.5h0M431.9 292.6h0M431.9 262.2h0M432.1 219.6h0M432.5 279.5h0M432.6 213.6h0M432.9 214.5h0M433.1 210.1h0M432.9 215.7h0M433.2 218.5h0M433.5 213.9h0M433.6 216.3h0M433.7 215.2h0M433.9 221.9h0M434.2 211.2h0M434.3 216.3h0M434.5 233.7h0M434.8 215.3h0M434.9 213.0h0M435.2 227.7h0M435.4 219.2h0M435.4 209.4h0M435.6 214.9h0M435.8 213.9h0M436.1 236.2h0M436.2 217.4h0M436.4 218.7h0M436.7 226.6h0M436.8 223.0h0M437.1 221.5h0M437.3 223.9h0M437.3 221.3h0M437.6 221.8h0M437.8 230.6h0M437.9 260.1h0M438.2 222.7h0M438.2 223.3h0M438.5 225.6h0M438.6 229.4h0M438.8 225.7h0M439.2 265.1h0M439.2 224.0h0M439.4 260.9h0M439.7 228.0h0M439.8 254.9h0M440.1 222.1h0M440.3 250.6h0M440.4 249.4h0M440.7 219.3h0M440.8 215.8h0M441.0 215.1h0M441.2 228.1h0M441.4 215.9h0M441.5 225.1h0M441.7 222.5h0M442.0 227.0h0M442.1 225.1h0M442.3 225.2h0M442.5 223.4h0M442.7 226.8h0M442.9 234.8h0M443.1 230.4h0M443.3 232.3h0M443.5 226.6h0M443.6 257.7h0M443.9 228.5h0M444.0 260.7h0M444.2 239.4h0M444.4 233.0h0M444.5 236.8h0M444.8 245.6h0M445.0 227.1h0M445.1 225.3h0M445.4 261.5h0M445.6 260.6h0M445.8 231.2h0M445.8 218.1h0M446.1 215.5h0M446.2 210.2h0M446.3 212.3h0M446.5 209.8h0M446.5 215.3h0M446.7 209.4h0M446.8 209.6h0M447.0 213.4h0M447.2 211.9h0M447.4 209.8h0M447.5 211.5h0M447.6 208.6h0M447.8 213.1h0M448.0 211.2h0M448.1 206.7h0M448.2 206.2h0M448.5 211.5h0M448.6 208.8h0M448.8 209.2h0M448.9 207.0h0M449.0 207.6h0M449.2 210.2h0M449.2 204.6h0M449.5 208.3h0M449.6 205.7h0M449.7 208.8h0M449.9 206.2h0M450.1 206.0h0M450.2 207.4h0M450.4 210.3h0M450.5 209.5h0M450.6 210.2h0M450.9 206.7h0M450.9 204.6h0M451.0 209.2h0M451.2 206.9h0M451.5 210.9h0M451.6 207.5h0M451.7 210.4h0M451.8 209.3h0M451.9 213.2h0M452.2 213.5h0M452.4 210.9h0M452.4 209.0h0M452.6 214.5h0M452.7 216.0h0M452.9 210.0h0M453.0 213.4h0M453.3 216.2h0M453.4 212.8h0M453.5 217.5h0M453.7 215.8h0M453.8 217.4h0M454.0 220.7h0M454.2 216.2h0M454.3 216.5h0M454.5 221.1h0M454.5 215.3h0M454.7 221.7h0M454.9 216.6h0M455.0 214.2h0M455.2 216.1h0M455.3 215.4h0M455.4 216.8h0M455.5 212.0h0M455.8 217.8h0M455.9 213.8h0M456.1 214.0h0M456.1 214.7h0M456.3 213.0h0M456.5 214.7h0M456.7 210.0h0M456.8 208.3h0M457.0 205.6h0M457.0 209.5h0M457.2 206.4h0M457.5 209.8h0M457.5 204.7h0M457.7 204.2h0M457.8 208.7h0M458.0 207.7h0M458.1 206.7h0M458.3 204.3h0M458.4 204.5h0M458.6 201.7h0M458.8 205.3h0M458.9 201.8h0M459.0 207.0h0M459.2 202.7h0M459.3 204.8h0M459.5 205.7h0M459.6 211.1h0M459.9 204.9h0M459.9 210.4h0M460.2 207.8h0M460.2 209.0h0M460.4 207.1h0M460.5 212.7h0M460.7 212.0h0M460.8 212.4h0M461.0 216.2h0M461.1 217.0h0M461.4 213.9h0M461.5 214.0h0M461.7 216.5h0M461.8 219.2h0M461.9 221.2h0M462.0 222.0h0M462.3 223.8h0M462.4 224.6h0M462.5 219.6h0M462.7 220.6h0M462.9 224.7h0M463.0 226.8h0M463.1 223.9h0M463.3 226.7h0M463.4 227.6h0M463.6 225.3h0M463.7 220.6h0M463.9 225.5h0M464.0 223.1h0M464.2 223.0h0M464.4 219.1h0M464.4 223.9h0M464.5 220.3h0M464.8 218.1h0M464.9 224.0h0M465.1 217.4h0M465.2 217.4h0M465.4 220.6h0M465.5 215.0h0M465.7 214.8h0M465.8 216.5h0M465.9 216.4h0M466.2 219.7h0M466.3 217.6h0M466.5 217.7h0M466.6 220.9h0M466.7 220.9h0M466.8 219.5h0M467.1 216.7h0M467.2 221.0h0M467.4 217.8h0M467.5 221.5h0M467.6 222.7h0M467.7 224.9h0M467.9 223.5h0M468.1 228.4h0M468.1 225.9h0M468.4 231.6h0M468.5 233.5h0M467.5 234.0h0M467.5 241.0h0M467.7 266.8h0M472.0 292.5h0M468.0 326.5h0M468.2 345.0h0M468.6 327.8h0M468.7 360.1h0M469.0 352.9h0M469.3 366.0h0M469.5 329.0h0M469.7 351.4h0M469.8 341.7h0M470.3 332.7h0M470.3 359.9h0M470.7 354.9h0M471.0 330.0h0M471.1 330.9h0M471.3 333.5h0M471.7 326.3h0M471.9 328.6h0M472.1 368.3h0M472.3 366.6h0M472.7 342.2h0M472.9 320.2h0M473.1 334.7h0M473.3 362.2h0M473.6 342.3h0M473.7 320.2h0M474.1 355.5h0M470.0 385.0h0M470.6 385.2h0M471.1 385.9h0M471.9 375.9h0M472.2 385.6h0M473.1 367.2h0M473.7 375.9h0M474.2 384.3h0M474.5 379.4h0M475.5 382.3h0M476.0 379.7h0M474.5 336.2h0M474.7 320.2h0M475.0 349.9h0M475.3 352.6h0M475.8 325.9h0M476.1 367.6h0M476.4 361.7h0M476.5 331.2h0M476.9 338.2h0M477.2 354.6h0M477.6 350.1h0M477.7 332.7h0M478.2 353.6h0M478.3 336.3h0M478.7 366.1h0M479.0 341.1h0M479.4 365.1h0M479.6 351.3h0M479.9 363.7h0M480.3 350.1h0M480.6 355.5h0M480.9 358.4h0M479.0 374.2h0M479.2 378.8h0M479.5 363.9h0M480.0 366.8h0M480.1 389.1h0M480.4 370.1h0M480.7 383.0h0M481.0 366.2h0M481.4 389.6h0M481.6 390.5h0M482.1 362.8h0M482.4 390.6h0M482.7 375.6h0M483.0 368.2h0M483.3 389.0h0M483.6 370.7h0M483.9 370.8h0M484.1 386.8h0M484.3 373.7h0M484.6 369.9h0M484.9 367.6h0M485.2 390.6h0M485.5 385.6h0M485.9 375.1h0M486.3 371.0h0M486.4 387.7h0M486.7 369.2h0M487.1 376.9h0M487.4 387.7h0M486.0 344.7h0M486.1 316.9h0M486.5 332.0h0M486.9 319.3h0M487.2 317.8h0M487.3 318.5h0M487.7 318.0h0M488.1 334.2h0M488.3 342.4h0M488.4 318.1h0M488.8 320.9h0M489.0 314.3h0M489.3 345.1h0M489.5 339.0h0M490.0 321.5h0M490.3 334.8h0M490.4 332.2h0M490.8 331.4h0M491.2 328.0h0M491.2 333.9h0M491.7 322.7h0M491.8 330.8h0M492.2 331.5h0M492.5 324.3h0M492.7 314.4h0M492.9 333.0h0M493.3 341.2h0M493.5 345.4h0M493.7 348.6h0M494.1 350.8h0M494.3 345.5h0M494.6 349.8h0M495.0 329.9h0M495.2 332.0h0M495.5 318.9h0M495.9 319.9h0M496.0 353.0h0M496.3 346.7h0M496.8 312.5h0M496.9 312.9h0M497.3 329.7h0M497.5 332.0h0M497.6 314.5h0M498.1 340.9h0M498.3 344.0h0M498.5 351.9h0M498.8 346.5h0M499.0 310.2h0M499.4 311.4h0M499.6 343.2h0M499.9 315.6h0M500.2 327.3h0M500.7 325.8h0M500.8 315.9h0M501.0 344.7h0M501.5 317.7h0M501.7 327.4h0M501.8 325.8h0M502.4 355.1h0M502.5 333.9h0M502.8 321.9h0M503.2 325.5h0M503.3 319.5h0M503.7 346.4h0M504.0 348.3h0M504.2 325.4h0M504.5 319.9h0M504.9 337.6h0M504.9 318.9h0M505.2 342.0h0M505.5 320.0h0M506.0 335.4h0M506.3 329.0h0M506.4 337.0h0M506.7 330.7h0M490.0 272.6h0M502.0 285.6h0M490.7 298.4h0M491.7 307.3h0M493.0 309.3h0M494.5 304.5h0M496.1 300.7h0M497.5 305.6h0M498.6 304.0h0M499.6 302.4h0M499.2 372.9h0M499.5 377.3h0M499.7 358.4h0M500.3 361.2h0M501.0 375.8h0M501.2 360.6h0M501.8 362.3h0M502.2 371.9h0M502.5 375.2h0M503.1 373.7h0M503.6 365.9h0M504.2 358.7h0M504.3 370.5h0M504.7 358.7h0M505.1 357.8h0M505.9 373.0h0M506.0 373.7h0M506.5 367.1h0M507.1 377.2h0M507.5 372.5h0M507.9 365.1h0M508.4 368.4h0M508.7 363.2h0M509.4 374.0h0M510.0 361.6h0M503.2 388.0h0M503.7 383.3h0M504.1 390.6h0M504.6 382.9h0M504.9 384.8h0M505.1 384.0h0M505.6 389.7h0M506.2 381.1h0M506.6 389.7h0M506.9 389.2h0M507.6 386.5h0M507.7 386.5h0M508.5 389.6h0M508.9 384.8h0M509.1 390.6h0M509.9 380.8h0M510.1 384.3h0M510.7 387.5h0M511.1 390.6h0M511.7 390.6h0M511.8 382.0h0M512.3 389.7h0M512.7 383.9h0M513.4 382.6h0M513.7 389.6h0M514.2 385.5h0M514.8 390.0h0M514.5 326.0h0M514.8 305.2h0M515.1 349.8h0M515.4 304.1h0M515.7 345.0h0M516.0 321.6h0M516.3 349.7h0M516.6 314.5h0M516.9 327.9h0M517.3 332.5h0M517.5 352.2h0M517.9 314.6h0M518.2 348.0h0M518.5 337.2h0M518.6 317.7h0M519.1 306.9h0M519.3 299.9h0M513.0 387.7h0M513.2 389.9h0M513.5 386.8h0M513.9 355.9h0M514.2 389.8h0M514.4 378.2h0M514.9 363.4h0M515.0 358.0h0M515.3 385.4h0M515.7 369.0h0M516.1 380.1h0M516.2 389.2h0M516.6 390.6h0M517.0 352.0h0M517.1 368.6h0M517.6 372.0h0M517.7 384.9h0M518.0 367.1h0M518.3 378.4h0M518.8 357.8h0M519.1 366.0h0M521.0 390.6h0M521.2 369.4h0M521.9 377.4h0M522.0 390.6h0M522.6 390.6h0M522.9 390.3h0M523.5 376.9h0M523.7 390.6h0M524.2 390.6h0M515.7 382.5h0M516.7 389.5h0M517.4 386.3h0M517.7 386.8h0M518.5 387.6h0M518.9 383.8h0M519.5 388.8h0M520.4 385.8h0M520.6 390.1h0M521.4 379.5h0M522.1 383.5h0M522.7 386.7h0M523.1 390.6h0M523.9 383.5h0M524.3 390.6h0M524.8 390.6h0M525.5 387.4h0M526.4 390.6h0M526.5 381.2h0M527.7 388.3h0M527.8 390.0h0M528.6 390.6h0M529.1 379.4h0M530.1 381.7h0M530.5 387.3h0M531.2 385.2h0M531.8 390.6h0M532.1 390.6h0M532.8 378.8h0M533.4 381.8h0M533.9 379.2h0M527.8 357.7h0M528.2 359.9h0M528.6 369.6h0M529.0 390.3h0M529.4 378.2h0M529.7 361.3h0M530.0 365.0h0M530.4 382.5h0M530.9 362.0h0M531.1 375.4h0M531.4 386.3h0M530.5 295.0h0M528.0 326.0h0M530.0 329.5h0M530.5 334.0h0M528.0 323.7h0M528.3 324.3h0M528.6 323.8h0M529.0 324.0h0M529.8 322.9h0M530.2 323.6h0M530.4 324.2h0M531.0 324.0h0M536.9 361.8h0M537.3 385.9h0M537.6 390.6h0M537.8 386.1h0M538.2 390.5h0M538.6 390.6h0M538.9 385.8h0M539.1 362.6h0M539.5 363.2h0M539.7 387.3h0M540.1 374.4h0M540.4 373.4h0M540.6 390.6h0M541.0 375.8h0M541.3 390.6h0M541.5 367.2h0M541.7 383.6h0M542.0 378.8h0M542.3 375.2h0M542.8 370.4h0M543.1 372.0h0M555.0 389.0h0M558.1 373.3h0M558.1 357.9h0M558.4 355.5h0M558.6 360.8h0M558.9 370.3h0M559.0 346.2h0M559.2 369.2h0M559.4 345.3h0M559.5 351.9h0M559.9 387.7h0M560.0 381.3h0M560.3 373.5h0M560.3 382.3h0M560.5 371.0h0M560.7 339.5h0M561.1 346.7h0M561.1 355.5h0M561.4 380.7h0M561.6 350.3h0M561.8 374.9h0M562.0 375.7h0M562.1 389.2h0M562.5 342.9h0M563.0 389.8h0M563.4 389.9h0M563.7 390.4h0M563.8 390.6h0M569.6 389.5h0M569.7 388.8h0M569.9 388.4h0M570.2 389.4h0M570.2 388.6h0M570.5 388.0h0M570.8 385.3h0M571.0 385.7h0M571.1 386.3h0M571.2 385.2h0M571.4 388.7h0M571.6 390.5h0M571.9 387.5h0M572.2 387.8h0M572.2 384.8h0M572.5 386.2h0M572.8 382.8h0M573.0 389.3h0M573.1 388.7h0M573.2 386.6h0M573.4 383.6h0M573.8 385.0h0M573.9 388.7h0M574.2 390.0h0M574.3 385.8h0M574.4 386.3h0M574.8 383.4h0M574.9 389.1h0M575.2 388.0h0M575.3 389.1h0M575.6 390.1h0M575.8 384.3h0M576.0 385.1h0M576.0 388.5h0M576.3 385.4h0M576.5 385.6h0M576.8 385.0h0M576.9 384.6h0M577.1 389.9h0M577.3 387.0h0M577.4 388.0h0M577.7 386.5h0M577.9 386.5h0M578.1 387.9h0M578.3 387.8h0M578.4 390.2h0M576.5 374.6h0M576.6 340.7h0M576.8 362.8h0M576.8 389.3h0M577.0 364.4h0M577.1 344.5h0M577.3 346.7h0M577.4 321.3h0M577.4 346.0h0M577.6 341.7h0M577.7 371.1h0M577.9 373.6h0M578.0 333.7h0M578.0 324.2h0M578.2 359.0h0M578.3 320.7h0M578.4 361.6h0M590.1 390.5h0M590.1 390.3h0M590.4 387.8h0M590.7 387.2h0M590.7 388.6h0M591.1 388.6h0M591.1 386.0h0M591.4 388.4h0M591.7 386.5h0M591.8 386.1h0M592.0 388.5h0M592.2 388.8h0M592.4 383.9h0M592.5 386.3h0M592.9 389.6h0M593.0 389.9h0M593.2 388.7h0M593.4 386.4h0M593.7 384.7h0M593.7 384.9h0M594.0 387.6h0M594.2 385.1h0M594.4 385.9h0M594.7 390.4h0M594.9 387.9h0M595.1 384.9h0M595.3 386.2h0M595.4 388.9h0M595.5 385.2h0M595.8 387.9h0M595.9 388.9h0M596.1 388.6h0M596.4 389.6h0M596.6 386.6h0M596.8 388.5h0M597.0 387.9h0M596.7 386.9h0M598.0 386.0h0M597.8 384.4h0M598.1 385.8h0M597.7 384.7h0M598.2 383.3h0M597.3 384.9h0M597.2 379.9h0M597.5 385.1h0M598.4 380.3h0M598.0 380.3h0M598.4 378.8h0M597.5 380.1h0M597.3 378.6h0M597.7 375.8h0M598.1 373.7h0M597.6 375.1h0M597.8 373.2h0M598.5 377.0h0M598.2 371.7h0M597.2 371.5h0M597.5 367.6h0M598.4 369.0h0M599.1 370.5h0M598.1 368.4h0M597.5 364.7h0M597.9 367.7h0M597.6 362.6h0M598.0 363.2h0M597.7 361.4h0M598.6 361.9h0M599.0 359.9h0M597.8 363.3h0M599.4 364.5h0M599.5 356.2h0M599.1 355.8h0M599.5 357.8h0M598.8 354.6h0M599.1 354.6h0M598.4 356.8h0M598.2 352.6h0M599.8 350.7h0M599.5 351.6h0M600.0 349.3h0M599.4 347.7h0M599.9 353.4h0M598.9 347.9h0M600.3 347.7h0M599.2 344.6h0M599.8 344.3h0M599.7 343.1h0M600.2 341.1h0M599.2 341.8h0M599.9 343.6h0M599.5 342.9h0M599.3 342.3h0M600.0 341.1h0M600.5 337.3h0M601.1 335.9h0M600.5 340.3h0M601.1 337.4h0M600.6 331.8h0M601.6 332.1h0M601.1 332.4h0M602.0 335.7h0M601.8 332.6h0M602.1 335.9h0M602.2 336.7h0M600.6 335.6h0M600.8 337.1h0M601.8 337.9h0M600.7 344.1h0M601.5 337.4h0M601.7 339.5h0M602.2 339.9h0M602.4 341.6h0M602.9 341.3h0M601.2 347.4h0M602.2 343.2h0M602.9 348.5h0M601.8 349.5h0M601.4 348.4h0M603.2 347.2h0M602.0 348.6h0M603.1 353.0h0M601.5 350.1h0M603.4 351.2h0M602.6 352.3h0M602.8 353.2h0M602.8 353.7h0M602.7 355.4h0M602.4 354.1h0M603.8 358.0h0M603.6 359.6h0M602.8 358.9h0M603.2 357.5h0M603.0 359.2h0M602.6 360.5h0M603.0 360.8h0M603.6 362.2h0M602.7 363.8h0M603.3 363.9h0M602.6 369.4h0M604.0 364.2h0M603.7 366.2h0M604.3 365.6h0M603.1 369.4h0M605.1 371.1h0M604.8 376.1h0M604.9 373.4h0M604.3 373.1h0M604.3 373.9h0M605.6 375.6h0M604.0 376.4h0M604.6 375.4h0M604.2 379.3h0M604.2 377.0h0M604.8 379.4h0M604.5 379.9h0M606.1 380.4h0M605.7 384.3h0M605.1 380.2h0M606.9 377.2h0M606.7 379.1h0M605.3 377.1h0M606.1 377.8h0M606.8 373.0h0M605.7 373.8h0M606.9 372.5h0M606.8 370.9h0M607.7 372.0h0M608.0 372.5h0M607.9 367.6h0M608.1 369.5h0M607.4 370.4h0M606.5 365.8h0M608.2 365.7h0M608.1 368.3h0M607.5 363.1h0M607.5 365.4h0M608.0 365.7h0M608.8 366.7h0M608.6 363.3h0M608.7 359.6h0M608.2 358.0h0M609.0 359.4h0M608.1 357.4h0M608.4 353.6h0M608.5 354.9h0M608.6 353.6h0M608.9 354.2h0M609.0 350.1h0M608.8 354.0h0M608.7 352.5h0M609.8 350.8h0M608.7 348.0h0M609.3 352.2h0M608.8 347.9h0M608.9 345.9h0M609.9 344.8h0M609.9 344.0h0M609.4 344.1h0M610.3 346.2h0M610.2 343.5h0M609.5 340.1h0M610.4 337.8h0M610.0 338.7h0M610.2 339.3h0M611.7 337.7h0M611.1 333.5h0M612.2 335.9h0M611.8 338.1h0M612.4 335.7h0M613.1 339.2h0M614.1 338.9h0M615.5 338.3h0M614.3 340.7h0M614.3 342.9h0M615.1 337.4h0M616.5 337.1h0M616.5 335.7h0M616.0 335.0h0M618.4 336.9h0M618.0 336.7h0M617.6 338.7h0M618.2 338.2h0M619.1 345.5h0M618.9 341.4h0M618.5 339.6h0M618.7 345.1h0M618.4 344.0h0M619.8 347.4h0M619.4 344.9h0M619.4 345.2h0M619.2 346.5h0M618.6 352.0h0M619.9 348.4h0M618.8 348.2h0M619.5 352.9h0M619.0 353.2h0M620.8 352.0h0M619.9 354.4h0M619.4 353.3h0M620.6 353.9h0M620.1 356.9h0M620.5 355.4h0M621.5 357.7h0M620.8 358.6h0M621.2 357.4h0M620.4 358.8h0M620.6 362.7h0M620.4 360.8h0M621.5 365.7h0M620.1 364.5h0M621.7 369.5h0M620.9 367.3h0M621.2 367.3h0M620.9 367.1h0M620.8 369.7h0M621.8 375.1h0M620.8 370.5h0M622.4 370.9h0M622.3 372.5h0M621.9 372.9h0M621.7 377.0h0M621.7 376.5h0M621.8 375.1h0M622.6 375.8h0M621.2 378.3h0M621.3 379.6h0M621.6 377.4h0M622.5 379.4h0M621.8 382.5h0M621.4 381.2h0M622.8 379.8h0M622.8 387.0h0M622.6 382.8h0M623.1 384.9h0M622.9 384.2h0M623.2 385.8h0M622.7 385.2h0M623.0 386.6h0M623.4 388.6h0M623.3 385.5h0M623.6 388.4h0M623.9 385.3h0M624.1 382.9h0M624.4 388.1h0M624.1 387.2h0M623.8 380.4h0M624.2 381.8h0M623.5 379.7h0M624.7 376.8h0M624.2 376.3h0M624.8 380.0h0M624.7 373.8h0M624.8 372.4h0M624.9 373.1h0M624.8 375.0h0M625.7 370.5h0M624.4 370.2h0M625.7 369.3h0M624.9 369.1h0M624.4 366.4h0M625.7 366.7h0M625.9 365.9h0M624.8 367.3h0M625.1 364.2h0M626.5 364.5h0M626.0 365.6h0M625.2 361.0h0M626.2 361.8h0M625.9 358.8h0M626.3 363.9h0M626.1 359.9h0M625.4 357.0h0M627.2 357.5h0M625.8 360.0h0M625.5 354.3h0M625.6 355.1h0M626.2 353.7h0M626.6 355.0h0M626.9 350.7h0M626.8 351.0h0M626.5 349.5h0M627.9 350.5h0M627.7 347.8h0M627.6 348.0h0M627.2 345.1h0M627.8 348.3h0M626.9 343.9h0M626.5 343.5h0M628.4 347.8h0M627.6 344.5h0M628.5 344.5h0M627.8 351.3h0M627.4 346.6h0M627.5 348.1h0M628.4 350.6h0M627.7 350.2h0M628.7 350.4h0M628.2 350.6h0M627.8 352.2h0M628.5 352.9h0M627.8 356.4h0M628.8 354.5h0M627.6 356.1h0M629.0 358.0h0M628.5 364.4h0M628.9 358.2h0M628.0 361.1h0M628.5 362.5h0M629.1 365.7h0M628.6 363.6h0M628.8 363.8h0M629.9 362.8h0M629.7 365.0h0M628.7 367.0h0M630.1 371.0h0M629.0 373.1h0M629.4 367.1h0M629.5 370.7h0M629.1 369.5h0M629.5 372.5h0M630.8 372.1h0M629.6 373.3h0M630.0 378.7h0M631.3 373.3h0M631.1 376.5h0M630.4 377.1h0M630.5 377.5h0M630.6 377.6h0M631.0 378.2h0M631.1 376.2h0M632.2 377.7h0M632.9 373.7h0M632.8 372.7h0M633.3 374.2h0M634.4 371.9h0M635.2 372.6h0M635.3 373.0h0M635.7 372.0h0M635.6 373.1h0M636.0 378.4h0M636.8 378.5h0M635.3 375.5h0M636.6 377.2h0M636.8 382.6h0M636.9 385.8h0M636.4 382.1h0M637.3 379.3h0M638.2 386.6h0M636.6 384.6h0M638.4 386.9h0M638.5 385.3h0M638.3 385.5h0M638.1 390.6h0M638.6 388.0h0M638.9 390.6h0M639.5 390.3h0M638.2 390.3h0M639.4 390.6h0M641.2 388.1h0M640.3 388.1h0M640.9 387.2h0M641.7 386.6h0M641.4 388.1h0M643.2 384.9h0M642.9 384.9h0M642.7 388.0h0M642.7 385.0h0M644.2 382.9h0M644.2 382.3h0M645.9 384.2h0M646.7 384.6h0M647.7 390.6h0M646.6 388.1h0M647.1 388.5h0M648.4 388.3h0M647.7 390.6h0M610.3 342.7h0M610.5 334.5h0M611.7 351.2h0M612.8 335.8h0M613.0 347.9h0M613.7 340.9h0M614.6 344.3h0M615.9 343.9h0M616.7 350.5h0M617.6 337.7h0M618.0 341.2h0M619.2 343.9h0M621.0 362.7h0M621.9 385.3h0M622.9 373.8h0M624.1 359.2h0M625.2 360.7h0M626.3 385.9h0M626.7 388.7h0M628.4 390.4h0M628.6 378.0h0M630.2 384.9h0M631.1 364.6h0M631.7 363.7h0M641.9 387.6h0M642.3 385.2h0M642.7 385.7h0M643.0 383.9h0M643.2 385.8h0M643.4 384.0h0M643.9 383.2h0M644.0 382.8h0M644.4 386.7h0M644.7 384.7h0M644.9 387.1h0M645.3 387.4h0M645.5 384.7h0M645.9 383.6h0M646.1 383.3h0M646.5 387.2h0M646.9 387.0h0M647.1 385.0h0M647.4 385.4h0M647.6 386.4h0M648.1 387.5h0M648.2 386.9h0M648.5 387.1h0M648.9 387.8h0M692.5 387.2h0M692.6 387.3h0M692.7 386.9h0M692.8 387.0h0M692.9 387.4h0M693.0 387.4h0M693.1 387.3h0M693.2 387.1h0M693.3 387.2h0M693.4 387.2h0M693.5 386.0h0M693.6 385.6h0M693.7 385.5h0M693.8 386.3h0M693.9 386.1h0M694.0 386.8h0M694.1 386.9h0M694.2 385.4h0M694.3 384.7h0M694.4 387.4h0M694.5 385.5h0M694.6 384.5h0M694.7 387.3h0M694.8 387.3h0M694.9 384.7h0M695.0 383.3h0M695.1 383.2h0M695.2 383.4h0M695.3 386.6h0M695.4 386.3h0M695.5 386.5h0M695.6 384.3h0M695.7 383.0h0M695.8 382.9h0M695.9 387.1h0M696.0 387.2h0M696.1 384.4h0M696.2 381.3h0M696.3 383.1h0M696.4 385.8h0M696.5 381.2h0M696.6 382.3h0M696.7 387.2h0M696.8 381.6h0M696.9 380.4h0M697.0 383.6h0M697.1 381.4h0M697.2 385.3h0M697.3 384.4h0M697.4 385.1h0M697.5 385.2h0M697.6 381.8h0M697.7 385.6h0M697.8 383.2h0M697.9 385.2h0M698.0 386.6h0M698.1 386.5h0M698.2 385.5h0M698.3 387.5h0M698.4 387.4h0M698.5 384.1h0M698.6 386.9h0M698.7 385.9h0M698.8 386.9h0M698.9 385.6h0M699.0 387.0h0M699.1 387.3h0M699.2 386.8h0M699.3 386.8h0M699.4 387.4h0M699.5 386.5h0M704.0 388.0h0M738.5 388.5h0" fill="none" stroke="#00ff00" stroke-width="4.0" stroke-linecap="round"/><path d="M738.5 377.5L738.5 378.5" fill="none" stroke="#ff00ff" stroke-width="4.0" stroke-linecap="round" stroke-linejoin="round"/><path d="M207.7 366.0h0M207.7 368.5h0M207.5 387.4h0M207.6 383.0h0M207.8 378.2h0M207.8 382.8h0M208.0 383.0h0M208.1 389.8h0M208.3 377.2h0M208.3 382.1h0M208.4 377.3h0M208.5 383.7h0M208.7 379.9h0M208.8 377.2h0M209.0 385.7h0M213.0 335.0h0M212.5 359.4h0M212.5 381.9h0M212.7 377.6h0M212.7 362.8h0M212.8 381.4h0M212.9 375.5h0M213.0 358.7h0M213.0 368.0h0M213.1 374.9h0M213.2 358.3h0M213.3 374.4h0M213.4 363.5h0M213.5 381.8h0M213.6 383.6h0M213.6 389.3h0M213.7 381.2h0M213.8 373.7h0M213.9 385.0h0M213.9 387.3h0M214.0 388.0h0M214.1 364.9h0M214.2 363.0h0M214.3 387.7h0M214.3 380.9h0M214.4 379.1h0M214.5 364.4h0M214.6 378.1h0M214.6 381.5h0M214.8 382.2h0M214.8 366.5h0M214.9 361.0h0M215.0 365.6h0M209.4 387.9h0M209.6 383.8h0M209.8 382.8h0M210.0 385.6h0M210.2 384.1h0M210.5 382.2h0M210.7 385.8h0M210.9 382.6h0M211.0 389.3h0M211.3 382.3h0M211.4 388.6h0M211.8 386.3h0M211.8 386.7h0M212.1 390.5h0M212.3 384.0h0M212.6 388.0h0M212.8 384.6h0M213.0 387.9h0M216.4 388.6h0M216.8 387.6h0M217.0 388.3h0M217.3 388.9h0M223.4 387.1h0M223.6 387.1h0M224.0 389.1h0M224.0 386.1h0M224.2 385.5h0M224.6 389.3h0M224.8 386.1h0M224.9 389.7h0M225.2 388.2h0M225.3 385.7h0M225.5 390.2h0M225.8 387.2h0M226.0 390.1h0M226.2 388.6h0M226.3 388.1h0M226.5 388.3h0M231.5 389.8h0M231.8 390.2h0M231.8 390.3h0M232.1 384.7h0M232.3 387.3h0M232.5 383.0h0M232.8 382.8h0M233.0 383.3h0M233.1 387.2h0M233.2 390.4h0M233.6 390.2h0M233.7 381.1h0M234.0 390.2h0M234.2 382.2h0M234.2 377.4h0M234.4 385.2h0M234.6 381.2h0M234.9 382.9h0M235.1 386.1h0M235.2 375.3h0M235.5 374.4h0M235.8 383.3h0M235.8 376.9h0M236.0 389.3h0M236.4 378.0h0M236.5 372.9h0M236.7 387.8h0M236.8 372.4h0M237.1 389.0h0M237.3 381.4h0M237.5 373.9h0M237.6 378.7h0M237.9 375.0h0M238.0 382.1h0M238.3 383.6h0M238.6 381.2h0M238.6 374.8h0M238.9 376.6h0M239.1 384.7h0M239.4 376.6h0M239.6 382.0h0M239.8 390.2h0M239.9 386.4h0M329.5 390.3h0M329.8 389.2h0M330.0 389.4h0M330.5 388.3h0M330.6 389.6h0M330.9 390.5h0M331.3 387.8h0M335.0 390.4h0M335.1 390.5h0M335.4 390.3h0M335.6 390.1h0M335.7 389.8h0M336.1 390.0h0M336.3 389.5h0M336.5 389.5h0M336.7 389.4h0M336.8 389.5h0M337.0 389.4h0M337.3 389.6h0M337.4 389.5h0M337.5 390.5h0M337.9 389.1h0M338.0 389.8h0M338.1 390.1h0M338.4 390.1h0M338.6 388.3h0M338.8 387.7h0M339.0 389.0h0M339.2 387.6h0M339.4 390.2h0M339.6 387.6h0M339.9 390.4h0M339.9 387.9h0M340.1 390.2h0M340.3 390.1h0M340.7 385.7h0M340.7 390.5h0M341.1 385.3h0M341.2 389.7h0M341.4 385.3h0M341.6 388.4h0M341.8 389.9h0M341.9 386.3h0M342.3 388.5h0M342.4 385.8h0M342.6 385.8h0M342.7 386.2h0M342.9 390.4h0M343.2 389.9h0M343.5 384.9h0M343.6 388.5h0M343.8 385.1h0M344.0 385.8h0M344.1 389.5h0M344.5 389.5h0M344.6 381.2h0M344.7 376.1h0M345.0 381.3h0M345.1 383.1h0M345.4 372.7h0M345.6 364.8h0M345.7 365.4h0M346.0 381.0h0M346.3 365.6h0M346.4 361.8h0M346.6 360.4h0M346.9 362.4h0M347.0 360.0h0M347.1 374.5h0M347.4 360.9h0M347.6 385.3h0M347.7 385.6h0M348.1 361.1h0M347.9 376.5h0M348.3 354.4h0M348.4 357.5h0M348.7 355.1h0M348.8 371.9h0M349.1 352.0h0M349.4 368.8h0M349.6 371.8h0M349.8 351.9h0M350.1 366.9h0M350.2 357.6h0M350.4 351.6h0M350.7 371.6h0M350.9 365.7h0M351.0 358.3h0M351.2 350.1h0M351.5 356.4h0M351.7 352.3h0M351.9 346.5h0M352.2 350.9h0M352.4 368.7h0M352.5 352.4h0M352.9 360.6h0M353.0 366.4h0M353.4 349.0h0M353.6 363.7h0M353.6 360.5h0M354.0 345.8h0M353.9 373.8h0M354.3 342.8h0M354.4 375.5h0M354.6 348.6h0M354.7 360.1h0M355.0 373.2h0M355.1 374.8h0M355.3 349.6h0M355.6 351.1h0M355.7 365.2h0M356.1 376.0h0M356.3 359.5h0M356.4 363.4h0M356.5 375.0h0M356.7 367.6h0M357.1 367.2h0M357.3 365.6h0M357.4 367.1h0M357.6 372.4h0M357.8 378.8h0M358.0 370.6h0M358.2 370.1h0M358.5 371.9h0M346.0 354.5h0M358.6 389.5h0M358.7 386.4h0M359.2 390.0h0M359.5 387.8h0M359.8 387.5h0M359.9 390.1h0M360.4 390.3h0M360.6 388.3h0M360.9 388.8h0M361.2 390.3h0M361.5 390.0h0M361.9 390.4h0M362.0 387.1h0M362.5 389.4h0M362.6 390.1h0M362.9 386.6h0M363.3 388.7h0M363.6 387.1h0M364.0 387.4h0M364.5 386.0h0M364.7 386.1h0M364.9 372.9h0M365.1 372.5h0M365.4 386.0h0M365.7 373.3h0M365.9 371.8h0M366.0 374.2h0M366.2 373.0h0M366.5 376.5h0M366.7 373.4h0M366.8 386.6h0M367.2 372.4h0M367.3 377.8h0M367.5 384.2h0M367.7 378.7h0M368.1 385.9h0M368.2 379.1h0M368.4 368.3h0M368.7 383.1h0M368.9 380.4h0M369.2 384.0h0M369.4 376.2h0M369.5 373.1h0M369.8 376.2h0M370.0 387.0h0M370.0 390.3h0M370.2 388.5h0M370.6 383.8h0M370.9 385.4h0M371.2 389.5h0M371.6 390.6h0M371.7 389.7h0M372.0 387.5h0M372.5 387.4h0M372.8 385.8h0M372.9 386.9h0M373.9 373.1h0M374.1 376.9h0M374.4 369.6h0M374.6 370.8h0M374.8 386.5h0M375.1 366.3h0M375.2 365.2h0M375.4 385.4h0M375.5 359.0h0M375.9 381.9h0M376.0 375.5h0M376.3 368.4h0M376.3 388.1h0M376.5 378.9h0M376.7 380.6h0M377.0 374.1h0M377.1 377.5h0M377.4 384.6h0M377.7 361.6h0M377.7 364.6h0M378.0 387.8h0M378.2 385.3h0M378.4 390.2h0M375.5 310.0h0M375.0 324.0h0M379.6 389.0h0M379.8 390.6h0M380.0 388.2h0M380.3 388.2h0M380.6 388.3h0M381.0 387.5h0M381.2 388.6h0M381.7 388.7h0M381.8 389.8h0M382.2 388.3h0M382.6 389.9h0M382.9 389.1h0M383.2 388.6h0M383.3 387.6h0M383.8 388.8h0M384.0 388.9h0M384.3 390.3h0M384.7 388.1h0M384.8 387.7h0M385.3 387.7h0M385.4 389.7h0M385.8 389.5h0M396.6 390.6h0M396.7 390.6h0M394.8 390.6h0M394.1 389.0h0M395.1 389.9h0M393.6 387.9h0M394.7 387.6h0M397.1 384.2h0M396.3 388.0h0M394.4 386.9h0M394.6 389.5h0M395.4 378.9h0M395.9 383.6h0M396.9 378.1h0M396.5 387.5h0M395.8 379.4h0M395.7 376.8h0M395.6 375.6h0M397.5 377.9h0M396.6 375.5h0M396.3 379.3h0M396.0 372.4h0M399.0 373.1h0M396.6 374.1h0M397.2 373.2h0M399.4 371.0h0M398.1 370.2h0M396.4 379.7h0M398.6 371.3h0M396.5 369.0h0M399.9 363.4h0M400.1 363.1h0M400.7 361.6h0M400.1 360.7h0M397.6 370.5h0M398.1 362.1h0M398.8 360.0h0M398.6 364.7h0M399.0 361.1h0M401.3 358.6h0M400.4 358.8h0M400.6 364.0h0M400.2 355.8h0M401.8 354.3h0M399.1 359.1h0M399.0 351.9h0M398.9 351.1h0M399.5 357.3h0M402.9 351.7h0M400.0 346.3h0M399.7 348.3h0M403.1 349.7h0M400.5 349.5h0M403.1 345.3h0M396.0 390.1h0M396.3 389.9h0M396.5 381.6h0M396.8 387.6h0M397.3 382.7h0M397.4 381.5h0M397.8 380.3h0M398.0 387.1h0M398.3 384.2h0M398.7 387.0h0M399.0 385.3h0M399.4 380.0h0M399.5 382.4h0M400.0 380.6h0M401.0 333.0h0M406.4 372.2h0M406.7 364.6h0M406.9 374.3h0M407.1 372.7h0M407.3 380.9h0M407.6 368.4h0M407.6 377.0h0M408.0 385.6h0M408.0 378.4h0M408.3 364.0h0M408.4 377.3h0M408.7 368.2h0M408.8 363.6h0M409.0 377.0h0M409.3 382.2h0M409.5 365.0h0M409.8 353.4h0M409.8 358.6h0M410.0 385.5h0M410.4 372.3h0M410.6 380.9h0M410.7 361.9h0M410.9 355.0h0M411.1 384.5h0M411.2 351.7h0M411.4 364.1h0M415.5 350.5h0M418.5 335.0h0M430.0 338.0h0M430.0 348.5h0M430.0 352.0h0M430.0 316.0h0M430.0 320.0h0M399.5 340.9h0M399.7 324.4h0M400.0 289.9h0M400.4 296.4h0M400.6 326.0h0M401.0 323.2h0M401.3 285.9h0M404.6 344.6h0M404.7 245.4h0M404.9 244.4h0M405.1 251.9h0M405.5 231.4h0M405.7 218.3h0M405.9 306.2h0M406.0 310.1h0M406.2 321.8h0M406.4 335.0h0M406.7 283.0h0M406.8 317.4h0M407.1 226.8h0M407.4 312.2h0M409.5 210.9h0M409.6 207.5h0M409.9 202.7h0M410.1 204.0h0M410.3 208.5h0M410.4 204.4h0M410.7 202.1h0M410.9 228.2h0M411.1 200.2h0M411.3 209.7h0M411.4 199.7h0M411.7 214.2h0M411.8 210.7h0M412.1 196.9h0M412.2 248.7h0M412.6 211.0h0M412.8 295.5h0M413.0 212.7h0M413.1 204.4h0M413.3 237.6h0M413.5 204.1h0M413.7 198.4h0M413.9 218.9h0M414.2 202.1h0M414.3 203.2h0M414.4 214.4h0M414.7 207.5h0M414.8 343.3h0M415.0 233.6h0M415.2 222.1h0M415.2 206.5h0M415.4 202.8h0M415.6 199.0h0M415.8 228.6h0M415.8 202.7h0M416.0 203.0h0M416.2 200.7h0M416.3 197.1h0M416.6 196.0h0M416.7 200.3h0M416.9 197.4h0M416.9 209.1h0M417.0 199.8h0M417.2 208.1h0M417.4 342.1h0M417.7 201.5h0M417.7 199.0h0M418.1 299.7h0M418.2 200.6h0M418.4 229.1h0M418.6 209.1h0M418.9 198.1h0M419.1 208.6h0M419.3 213.1h0M419.3 263.0h0M419.6 212.5h0M419.9 208.8h0M420.0 214.3h0M420.2 243.1h0M420.4 255.4h0M420.6 207.8h0M420.8 210.9h0M421.0 220.7h0M421.3 206.2h0M421.5 214.3h0M421.5 210.8h0M421.8 215.4h0M422.1 208.4h0M422.2 204.0h0M422.4 216.6h0M422.6 219.2h0M422.8 218.3h0M423.1 217.7h0M423.3 215.9h0M423.4 226.3h0M423.5 219.4h0M423.8 220.4h0M424.0 210.6h0M423.9 278.8h0M424.3 218.8h0M424.4 209.9h0M424.7 197.8h0M424.8 198.3h0M425.0 224.2h0M425.1 209.3h0M425.5 197.6h0M425.6 194.4h0M425.7 208.6h0M426.0 195.9h0M426.2 199.1h0M426.3 204.2h0M426.7 199.5h0M426.7 283.1h0M426.9 245.0h0M427.3 193.8h0M427.4 256.5h0M427.5 200.8h0M427.8 196.2h0M428.0 194.9h0M428.3 199.5h0M428.3 204.2h0M428.7 193.5h0M428.7 192.7h0M428.9 203.4h0M429.3 203.1h0M429.4 198.6h0M429.7 200.4h0M429.9 204.3h0M430.1 204.9h0M430.2 205.7h0M430.4 209.3h0M430.6 215.2h0M430.9 269.4h0M431.0 213.6h0M431.2 211.2h0M431.3 205.0h0M431.6 210.4h0M431.9 282.1h0M431.9 250.6h0M432.1 203.2h0M432.5 267.4h0M432.6 195.9h0M432.9 193.5h0M433.1 190.6h0M432.9 199.6h0M433.2 200.3h0M433.5 194.8h0M433.6 199.6h0M433.7 200.1h0M433.9 203.5h0M434.2 194.6h0M434.3 201.4h0M434.5 217.9h0M434.8 198.9h0M434.9 198.0h0M435.2 212.3h0M435.4 202.9h0M435.4 191.4h0M435.6 198.2h0M435.8 198.9h0M436.1 220.0h0M436.2 200.7h0M436.4 200.5h0M436.7 212.5h0M436.8 202.8h0M437.1 206.6h0M437.3 206.9h0M437.3 205.2h0M437.6 206.6h0M437.8 212.9h0M437.9 243.5h0M438.2 203.1h0M438.2 208.1h0M438.5 208.2h0M438.6 212.4h0M438.8 205.4h0M439.2 247.3h0M439.2 207.1h0M439.4 246.4h0M439.7 213.2h0M439.8 241.5h0M440.1 206.6h0M440.3 234.0h0M440.4 232.7h0M440.7 204.0h0M440.8 199.0h0M441.0 199.4h0M441.2 210.1h0M441.4 198.8h0M441.5 210.4h0M441.7 205.7h0M442.0 210.9h0M442.1 209.3h0M442.3 208.3h0M442.5 203.1h0M442.7 211.7h0M442.9 219.6h0M443.1 211.1h0M443.3 215.7h0M443.5 210.7h0M443.6 247.3h0M443.9 214.4h0M444.0 248.3h0M444.2 223.4h0M444.4 215.3h0M444.5 221.1h0M444.8 230.3h0M445.0 211.1h0M445.1 205.1h0M445.4 247.0h0M445.6 247.7h0M445.8 216.2h0M445.8 202.0h0M446.1 202.4h0M446.2 196.7h0M446.3 199.0h0M446.5 196.3h0M446.5 202.2h0M446.7 195.8h0M446.8 196.1h0M447.0 200.2h0M447.2 198.5h0M447.4 196.3h0M447.5 198.2h0M447.6 195.0h0M447.8 199.8h0M448.0 197.8h0M448.1 193.0h0M448.2 192.4h0M448.5 198.1h0M448.6 195.2h0M448.8 195.7h0M448.9 193.2h0M449.0 194.0h0M449.2 196.7h0M449.2 190.7h0M449.5 194.7h0M449.6 191.9h0M449.7 195.2h0M449.9 192.4h0M450.1 192.2h0M450.2 193.7h0M450.4 196.8h0M450.5 196.0h0M450.6 196.7h0M450.9 193.0h0M450.9 190.7h0M451.0 195.7h0M451.2 193.2h0M451.5 197.5h0M451.6 193.8h0M451.7 196.9h0M451.8 195.7h0M451.9 200.0h0M452.2 200.3h0M452.4 197.5h0M452.4 195.5h0M452.6 201.3h0M452.7 203.0h0M452.9 196.5h0M453.0 200.2h0M453.3 203.2h0M453.4 199.5h0M453.5 204.5h0M453.7 202.7h0M453.8 204.5h0M454.0 208.0h0M454.2 203.1h0M454.3 203.5h0M454.5 208.4h0M454.5 202.2h0M454.7 209.1h0M454.9 203.6h0M455.0 201.0h0M455.2 203.1h0M455.3 202.3h0M455.4 203.8h0M455.5 198.7h0M455.8 204.9h0M455.9 200.6h0M456.1 200.8h0M456.1 201.6h0M456.3 199.7h0M456.5 201.6h0M456.7 196.5h0M456.8 194.6h0M457.0 191.8h0M457.0 195.9h0M457.2 192.7h0M457.5 196.3h0M457.5 190.8h0M457.7 190.3h0M457.8 195.1h0M458.0 194.1h0M458.1 192.9h0M458.3 190.3h0M458.4 190.6h0M458.6 187.6h0M458.8 191.4h0M458.9 187.7h0M459.0 193.3h0M459.2 188.6h0M459.3 191.0h0M459.5 191.9h0M459.6 197.7h0M459.9 191.0h0M459.9 196.9h0M460.2 194.2h0M460.2 195.4h0M460.4 193.4h0M460.5 199.4h0M460.7 198.7h0M460.8 199.1h0M461.0 203.2h0M461.1 204.0h0M461.4 200.7h0M461.5 200.8h0M461.7 203.5h0M461.8 206.3h0M461.9 208.5h0M462.0 209.4h0M462.3 211.4h0M462.4 212.2h0M462.5 206.8h0M462.7 207.9h0M462.9 212.3h0M463.0 214.6h0M463.1 211.5h0M463.3 214.4h0M463.4 215.4h0M463.6 213.0h0M463.7 207.8h0M463.9 213.2h0M464.0 210.6h0M464.2 210.5h0M464.4 206.3h0M464.4 211.5h0M464.5 207.6h0M464.8 205.3h0M464.9 211.5h0M465.1 204.4h0M465.2 204.4h0M465.4 207.9h0M465.5 201.9h0M465.7 201.7h0M465.8 203.5h0M465.9 203.4h0M466.2 206.9h0M466.3 204.7h0M466.5 204.8h0M466.6 208.2h0M466.7 208.2h0M466.8 206.7h0M467.1 203.7h0M467.2 208.4h0M467.4 204.9h0M467.5 208.8h0M467.6 210.2h0M467.7 212.5h0M467.9 211.0h0M468.1 216.3h0M468.1 213.6h0M468.4 219.7h0M468.5 221.8h0M467.5 219.0h0M467.5 226.0h0M467.5 244.0h0M467.5 253.0h0M467.7 275.0h0M467.7 291.0h0M468.0 319.6h0M468.2 341.9h0M468.6 318.5h0M468.7 353.4h0M469.0 346.6h0M469.3 361.5h0M469.5 321.5h0M469.7 344.7h0M469.8 332.4h0M470.3 328.4h0M470.3 354.5h0M470.7 349.1h0M471.0 324.8h0M471.1 325.0h0M471.3 327.5h0M471.7 319.4h0M471.9 321.7h0M472.1 363.0h0M472.3 364.1h0M472.7 335.7h0M472.9 315.2h0M473.1 327.5h0M473.3 354.9h0M473.6 339.3h0M473.7 318.3h0M474.1 346.4h0M470.0 381.7h0M470.6 382.3h0M471.1 382.2h0M471.9 375.6h0M472.2 380.0h0M473.1 364.8h0M473.7 374.5h0M474.2 382.8h0M474.5 377.1h0M475.5 381.3h0M476.0 377.3h0M474.5 324.7h0M474.7 316.3h0M475.0 346.2h0M475.3 349.7h0M475.8 318.8h0M476.1 364.9h0M476.4 359.7h0M476.5 322.2h0M476.9 329.6h0M477.2 350.1h0M477.6 341.4h0M477.7 325.7h0M478.2 349.7h0M478.3 323.8h0M478.7 364.2h0M479.0 332.3h0M479.4 361.8h0M479.6 348.1h0M479.9 356.7h0M480.3 349.5h0M480.6 351.2h0M480.9 354.5h0M479.0 375.1h0M479.2 376.9h0M479.5 359.7h0M480.0 361.3h0M480.1 383.6h0M480.4 371.3h0M480.7 381.8h0M481.0 365.1h0M481.4 390.3h0M481.6 389.9h0M482.1 359.5h0M482.4 390.6h0M482.7 376.1h0M483.0 359.0h0M483.3 386.0h0M483.6 368.0h0M483.9 364.7h0M484.1 382.2h0M484.3 373.1h0M484.6 370.6h0M484.9 363.5h0M485.2 388.5h0M485.5 384.9h0M485.9 369.4h0M486.3 369.8h0M486.4 384.8h0M486.7 368.3h0M487.1 375.2h0M487.4 386.8h0M486.0 338.8h0M486.1 320.8h0M486.5 322.5h0M486.9 311.2h0M487.2 311.0h0M487.3 309.2h0M487.7 315.3h0M488.1 330.8h0M488.3 339.1h0M488.4 305.0h0M488.8 314.5h0M489.0 310.0h0M489.3 340.7h0M489.5 334.6h0M490.0 317.1h0M490.3 327.9h0M490.4 327.5h0M490.8 328.9h0M491.2 314.9h0M491.2 329.8h0M491.7 313.0h0M491.8 325.5h0M492.2 323.8h0M492.5 313.6h0M492.7 307.0h0M492.9 326.9h0M493.3 340.4h0M493.5 347.3h0M493.7 342.8h0M494.1 345.5h0M494.3 342.0h0M494.6 351.6h0M495.0 330.6h0M495.2 325.8h0M495.5 303.1h0M495.9 309.1h0M496.0 347.5h0M496.3 339.2h0M496.8 307.8h0M496.9 309.9h0M497.3 316.9h0M497.5 318.5h0M497.6 301.8h0M498.1 334.7h0M498.3 334.9h0M498.5 347.8h0M498.8 343.6h0M499.0 308.1h0M499.4 305.8h0M499.6 334.7h0M499.9 308.6h0M500.2 322.8h0M500.7 314.9h0M500.8 312.1h0M501.0 339.3h0M501.5 311.6h0M501.7 322.5h0M501.8 323.0h0M502.4 353.4h0M502.5 324.2h0M502.8 312.3h0M503.2 321.2h0M503.3 309.7h0M503.7 343.0h0M504.0 347.2h0M504.2 317.3h0M504.5 313.1h0M504.9 330.7h0M504.9 311.8h0M505.2 330.5h0M505.5 313.2h0M506.0 333.6h0M506.3 320.4h0M506.4 330.4h0M506.7 327.2h0M490.0 256.0h0M490.0 260.0h0M490.0 266.0h0M495.0 268.8h0M497.5 268.8h0M497.0 272.6h0M490.0 275.4h0M502.0 278.0h0M490.7 292.7h0M491.7 297.1h0M493.0 298.7h0M494.5 299.8h0M496.1 297.6h0M497.5 299.9h0M498.6 303.9h0M499.6 297.0h0M499.2 372.8h0M499.5 378.0h0M499.7 354.2h0M500.3 360.5h0M501.0 376.2h0M501.2 360.2h0M501.8 358.3h0M502.2 372.6h0M502.5 375.3h0M503.1 373.8h0M503.6 366.8h0M504.2 356.4h0M504.3 375.2h0M504.7 361.3h0M505.1 354.4h0M505.9 369.7h0M506.0 365.8h0M506.5 360.5h0M507.1 372.6h0M507.5 369.5h0M507.9 365.5h0M508.4 371.7h0M508.7 364.1h0M509.4 371.9h0M510.0 363.4h0M503.2 387.4h0M503.7 380.7h0M504.1 390.6h0M504.6 381.8h0M504.9 381.3h0M505.1 382.7h0M505.6 388.5h0M506.2 384.4h0M506.6 390.6h0M506.9 390.6h0M507.6 389.2h0M507.7 384.2h0M508.5 384.8h0M508.9 387.2h0M509.1 390.6h0M509.9 384.2h0M510.1 384.4h0M510.7 384.4h0M511.1 388.8h0M511.7 387.6h0M511.8 385.8h0M512.3 390.3h0M512.7 382.9h0M513.4 380.9h0M513.7 388.9h0M514.2 382.6h0M514.8 387.4h0M514.5 319.5h0M514.8 298.0h0M515.1 347.1h0M515.4 297.1h0M515.7 335.5h0M516.0 313.9h0M516.3 345.7h0M516.6 313.1h0M516.9 324.5h0M517.3 328.5h0M517.5 350.8h0M517.9 307.2h0M518.2 346.3h0M518.5 334.9h0M518.6 318.9h0M519.1 301.1h0M519.3 292.4h0M513.0 381.1h0M513.2 390.6h0M513.5 385.7h0M513.9 353.5h0M514.2 384.5h0M514.4 377.6h0M514.9 361.5h0M515.0 358.2h0M515.3 381.6h0M515.7 364.9h0M516.1 373.3h0M516.2 384.1h0M516.6 390.6h0M517.0 355.7h0M517.1 369.3h0M517.6 369.6h0M517.7 389.9h0M518.0 368.5h0M518.3 378.6h0M518.8 351.6h0M519.1 360.8h0M521.0 390.6h0M521.2 368.5h0M521.9 376.8h0M522.0 390.6h0M522.6 390.6h0M522.9 389.2h0M523.5 374.9h0M523.7 390.6h0M524.2 390.1h0M515.7 378.3h0M516.7 387.2h0M517.4 386.5h0M517.7 382.9h0M518.5 388.0h0M518.9 382.2h0M519.5 386.5h0M520.4 389.6h0M520.6 390.6h0M521.4 380.9h0M522.1 384.2h0M522.7 388.4h0M523.1 390.2h0M523.9 383.2h0M524.3 390.6h0M524.8 390.6h0M525.5 386.0h0M526.4 385.3h0M526.5 386.3h0M527.7 390.3h0M527.8 390.4h0M528.6 390.0h0M529.1 379.8h0M530.1 382.4h0M530.5 390.6h0M531.2 381.4h0M531.8 390.2h0M532.1 390.6h0M532.8 378.7h0M533.4 382.2h0M533.9 380.6h0M527.8 360.1h0M528.2 357.3h0M528.6 371.9h0M529.0 390.6h0M529.4 375.2h0M529.7 358.8h0M530.0 361.1h0M530.4 381.3h0M530.9 362.5h0M531.1 372.2h0M531.4 385.3h0M530.6 285.5h0M530.0 321.0h0M530.5 324.5h0M528.0 320.0h0M528.3 320.6h0M528.6 320.1h0M529.0 320.3h0M529.8 319.1h0M530.2 319.9h0M530.4 320.5h0M531.0 320.3h0M536.9 358.7h0M537.3 382.9h0M537.6 390.6h0M537.8 384.0h0M538.2 387.9h0M538.6 390.6h0M538.9 379.8h0M539.1 359.2h0M539.5 360.9h0M539.7 388.4h0M540.1 379.6h0M540.4 371.1h0M540.6 386.0h0M541.0 370.9h0M541.3 387.4h0M541.5 360.1h0M541.7 378.6h0M542.0 377.5h0M542.3 364.5h0M542.8 367.7h0M543.1 367.4h0M555.0 390.5h0M558.1 378.7h0M558.1 358.7h0M558.4 354.6h0M558.6 356.8h0M558.9 366.3h0M559.0 342.5h0M559.2 368.3h0M559.4 341.4h0M559.5 351.6h0M559.9 385.5h0M560.0 376.3h0M560.3 372.5h0M560.3 381.7h0M560.5 366.2h0M560.7 340.1h0M561.1 347.9h0M561.1 347.2h0M561.4 381.3h0M561.6 346.2h0M561.8 376.1h0M562.0 370.8h0M562.1 384.8h0M562.5 338.2h0M563.0 389.8h0M563.4 389.9h0M563.7 390.4h0M563.8 390.6h0M569.6 389.4h0M569.7 388.7h0M569.9 388.3h0M570.2 389.3h0M570.2 388.5h0M570.5 387.8h0M570.8 385.0h0M571.0 385.4h0M571.1 386.1h0M571.2 384.9h0M571.4 388.6h0M571.6 390.5h0M571.9 387.3h0M572.2 387.7h0M572.2 384.5h0M572.5 385.9h0M572.8 382.4h0M573.0 389.3h0M573.1 388.6h0M573.2 386.3h0M573.4 383.2h0M573.8 384.7h0M573.9 388.6h0M574.2 390.0h0M574.3 385.5h0M574.4 386.1h0M574.8 383.0h0M574.9 389.0h0M575.2 387.9h0M575.3 389.0h0M575.6 390.1h0M575.8 383.9h0M576.0 384.8h0M576.0 388.4h0M576.3 385.1h0M576.5 385.3h0M576.8 384.7h0M576.9 384.3h0M577.1 389.8h0M577.3 386.8h0M577.4 387.9h0M577.7 386.2h0M577.9 386.3h0M578.1 387.7h0M578.3 387.6h0M578.4 390.2h0M576.5 371.8h0M576.6 339.3h0M576.8 359.7h0M576.8 388.0h0M577.0 359.7h0M577.1 341.9h0M577.3 344.7h0M577.4 314.1h0M577.4 344.5h0M577.6 342.4h0M577.7 374.2h0M577.9 371.0h0M578.0 328.8h0M578.0 321.0h0M578.2 358.8h0M578.3 319.4h0M578.4 354.6h0M590.1 390.5h0M590.1 390.2h0M590.4 387.1h0M590.7 386.5h0M590.7 388.2h0M591.1 388.2h0M591.1 384.9h0M591.4 388.0h0M591.7 385.6h0M591.8 385.1h0M592.0 388.0h0M592.2 388.3h0M592.4 382.4h0M592.5 385.3h0M592.9 389.3h0M593.0 389.8h0M593.2 388.3h0M593.4 385.5h0M593.7 383.4h0M593.7 383.6h0M594.0 386.9h0M594.2 383.8h0M594.4 384.9h0M594.7 390.4h0M594.9 387.3h0M595.1 383.6h0M595.3 385.3h0M595.4 388.6h0M595.5 384.0h0M595.8 387.2h0M595.9 388.6h0M596.1 388.2h0M596.4 389.4h0M596.6 385.7h0M596.8 388.1h0M597.0 387.3h0M596.7 384.8h0M598.0 385.5h0M597.8 390.1h0M598.1 385.6h0M597.7 387.3h0M598.2 384.3h0M597.3 382.6h0M597.2 378.2h0M597.5 378.0h0M598.4 377.0h0M598.0 377.8h0M598.4 379.6h0M597.5 374.5h0M597.3 377.2h0M597.7 374.7h0M598.1 373.4h0M597.6 369.2h0M597.8 371.8h0M598.5 367.3h0M598.2 367.2h0M597.2 366.3h0M597.5 362.4h0M598.4 367.4h0M599.1 361.2h0M598.1 360.5h0M597.5 363.0h0M597.9 358.9h0M597.6 358.7h0M598.0 362.9h0M597.7 353.9h0M598.6 353.8h0M599.0 357.0h0M597.8 351.1h0M599.4 351.9h0M599.5 349.8h0M599.1 350.2h0M599.5 347.1h0M598.8 347.2h0M599.1 345.5h0M598.4 346.6h0M598.2 342.3h0M599.8 342.4h0M599.5 339.4h0M600.0 338.1h0M599.4 340.1h0M599.9 339.8h0M598.9 336.3h0M600.3 338.3h0M599.2 334.6h0M599.8 334.6h0M599.7 335.2h0M600.2 333.8h0M599.2 330.9h0M599.9 330.3h0M599.5 327.4h0M599.3 328.6h0M600.0 325.2h0M600.5 325.2h0M601.1 326.4h0M600.5 321.9h0M601.1 323.2h0M600.6 324.8h0M601.6 322.2h0M601.1 317.1h0M602.0 317.5h0M601.8 323.6h0M602.1 320.0h0M602.2 322.8h0M600.6 320.9h0M600.8 324.4h0M601.8 325.9h0M600.7 327.4h0M601.5 326.9h0M601.7 328.7h0M602.2 328.6h0M602.4 329.7h0M602.9 331.7h0M601.2 331.8h0M602.2 333.6h0M602.9 336.7h0M601.8 342.2h0M601.4 337.5h0M603.2 339.5h0M602.0 340.9h0M603.1 340.1h0M601.5 340.7h0M603.4 340.6h0M602.6 344.8h0M602.8 347.4h0M602.8 347.3h0M602.7 346.7h0M602.4 347.9h0M603.8 353.0h0M603.6 349.9h0M602.8 352.4h0M603.2 352.9h0M603.0 353.2h0M602.6 354.1h0M603.0 355.3h0M603.6 355.8h0M602.7 356.2h0M603.3 361.2h0M602.6 361.5h0M604.0 358.4h0M603.7 361.4h0M604.3 364.0h0M603.1 363.4h0M605.1 367.0h0M604.8 366.4h0M604.9 365.3h0M604.3 366.1h0M604.3 371.1h0M605.6 373.3h0M604.0 372.6h0M604.6 376.4h0M604.2 374.0h0M604.2 374.3h0M604.8 376.9h0M604.5 376.0h0M606.1 379.4h0M605.7 378.7h0M605.1 379.5h0M606.9 376.0h0M606.7 378.9h0M605.3 375.2h0M606.1 371.3h0M606.8 374.5h0M605.7 371.9h0M606.9 373.7h0M606.8 364.4h0M607.7 368.1h0M608.0 364.4h0M607.9 365.5h0M608.1 361.5h0M607.4 362.8h0M606.5 359.6h0M608.2 360.5h0M608.1 360.1h0M607.5 360.8h0M607.5 359.7h0M608.0 357.5h0M608.8 354.4h0M608.6 354.5h0M608.7 353.9h0M608.2 350.6h0M609.0 351.5h0M608.1 349.7h0M608.4 345.1h0M608.5 346.7h0M608.6 346.2h0M608.9 344.0h0M609.0 343.8h0M608.8 342.8h0M608.7 341.0h0M609.8 343.5h0M608.7 338.4h0M609.3 340.8h0M608.8 337.0h0M608.9 338.3h0M609.9 334.3h0M609.9 333.2h0M609.4 331.7h0M610.3 331.4h0M610.2 328.7h0M609.5 328.2h0M610.4 331.3h0M610.0 327.4h0M610.2 324.4h0M611.7 322.3h0M611.1 323.2h0M612.2 322.6h0M611.8 322.5h0M612.4 322.4h0M613.1 325.5h0M614.1 330.9h0M615.5 326.4h0M614.3 327.4h0M614.3 330.9h0M615.1 326.8h0M616.5 324.8h0M616.5 323.9h0M616.0 321.3h0M618.4 322.3h0M618.0 323.8h0M617.6 324.6h0M618.2 329.9h0M619.1 327.8h0M618.9 328.8h0M618.5 329.1h0M618.7 330.2h0M618.4 331.1h0M619.8 332.4h0M619.4 336.0h0M619.4 333.9h0M619.2 342.3h0M618.6 342.6h0M619.9 337.2h0M618.8 343.2h0M619.5 343.2h0M619.0 342.7h0M620.8 343.3h0M619.9 343.6h0M619.4 345.4h0M620.6 345.5h0M620.1 346.0h0M620.5 349.3h0M621.5 349.4h0M620.8 352.7h0M621.2 355.5h0M620.4 350.9h0M620.6 355.5h0M620.4 355.6h0M621.5 357.9h0M620.1 359.9h0M621.7 360.0h0M620.9 361.6h0M621.2 363.6h0M620.9 361.8h0M620.8 362.0h0M621.8 364.5h0M620.8 368.7h0M622.4 365.9h0M622.3 366.2h0M621.9 366.7h0M621.7 370.7h0M621.7 369.6h0M621.8 371.9h0M622.6 370.9h0M621.2 373.5h0M621.3 376.0h0M621.6 373.5h0M622.5 378.8h0M621.8 377.5h0M621.4 377.4h0M622.8 378.3h0M622.8 379.6h0M622.6 382.0h0M623.1 384.2h0M622.9 383.5h0M623.2 383.9h0M622.7 384.1h0M623.0 390.6h0M623.4 387.0h0M623.3 382.9h0M623.6 387.0h0M623.9 380.4h0M624.1 380.4h0M624.4 381.1h0M624.1 380.6h0M623.8 379.9h0M624.2 378.8h0M623.5 376.1h0M624.7 378.2h0M624.2 373.0h0M624.8 376.1h0M624.7 372.1h0M624.8 370.6h0M624.9 368.6h0M624.8 369.2h0M625.7 368.7h0M624.4 366.8h0M625.7 363.9h0M624.9 366.9h0M624.4 360.4h0M625.7 361.1h0M625.9 364.6h0M624.8 358.0h0M625.1 359.1h0M626.5 363.2h0M626.0 355.9h0M625.2 355.3h0M626.2 356.2h0M625.9 353.5h0M626.3 352.2h0M626.1 351.7h0M625.4 349.0h0M627.2 347.8h0M625.8 349.3h0M625.5 346.4h0M625.6 345.6h0M626.2 343.1h0M626.6 345.9h0M626.9 343.9h0M626.8 340.8h0M626.5 341.0h0M627.9 339.4h0M627.7 338.0h0M627.6 339.1h0M627.2 338.2h0M627.8 336.4h0M626.9 335.6h0M626.5 335.6h0M628.4 339.2h0M627.6 335.2h0M628.5 334.1h0M627.8 335.7h0M627.4 339.3h0M627.5 338.7h0M628.4 337.8h0M627.7 346.8h0M628.7 341.6h0M628.2 348.9h0M627.8 347.3h0M628.5 345.0h0M627.8 352.4h0M628.8 348.6h0M627.6 346.9h0M629.0 350.4h0M628.5 353.1h0M628.9 350.4h0M628.0 352.7h0M628.5 351.7h0M629.1 354.9h0M628.6 358.8h0M628.8 357.2h0M629.9 357.3h0M629.7 361.7h0M628.7 363.9h0M630.1 360.8h0M629.0 364.4h0M629.4 361.0h0M629.5 362.7h0M629.1 365.3h0M629.5 365.3h0M630.8 366.1h0M629.6 371.8h0M630.0 374.8h0M631.3 373.8h0M631.1 373.7h0M630.4 374.0h0M630.5 374.3h0M630.6 378.0h0M631.0 373.7h0M631.1 376.9h0M632.2 375.5h0M632.9 371.5h0M632.8 371.1h0M633.3 370.7h0M634.4 372.8h0M635.2 367.5h0M635.3 367.6h0M635.7 368.2h0M635.6 371.3h0M636.0 370.5h0M636.8 372.0h0M635.3 372.1h0M636.6 378.7h0M636.8 374.3h0M636.9 376.7h0M636.4 378.6h0M637.3 377.4h0M638.2 379.4h0M636.6 381.5h0M638.4 386.6h0M638.5 385.2h0M638.3 386.3h0M638.1 386.6h0M638.6 390.6h0M638.9 388.7h0M639.5 388.3h0M638.2 390.1h0M639.4 390.6h0M641.2 389.4h0M640.3 387.5h0M640.9 385.8h0M641.7 387.0h0M641.4 386.0h0M643.2 384.3h0M642.9 381.7h0M642.7 384.9h0M642.7 378.0h0M644.2 383.1h0M644.2 380.5h0M645.9 382.5h0M646.7 383.2h0M647.7 388.3h0M646.6 384.6h0M647.1 385.3h0M648.4 387.2h0M647.7 390.6h0M610.3 331.5h0M610.5 321.8h0M611.7 340.1h0M612.8 326.8h0M613.0 339.2h0M613.7 325.8h0M614.6 329.0h0M615.9 331.2h0M616.7 339.8h0M617.6 321.0h0M618.0 334.6h0M619.2 332.0h0M621.0 359.6h0M621.9 384.1h0M622.9 367.1h0M624.1 354.8h0M625.2 356.4h0M626.3 384.6h0M626.7 385.3h0M628.4 385.4h0M628.6 380.4h0M630.2 379.9h0M631.1 356.0h0M631.7 357.4h0M641.9 387.0h0M642.3 384.0h0M642.7 384.6h0M643.0 382.4h0M643.2 384.7h0M643.4 382.5h0M643.9 381.6h0M644.0 381.1h0M644.4 385.9h0M644.7 383.4h0M644.9 386.3h0M645.3 386.7h0M645.5 383.4h0M645.9 382.0h0M646.1 381.6h0M646.5 386.4h0M646.9 386.2h0M647.1 383.8h0M647.4 384.3h0M647.6 385.5h0M648.1 386.8h0M648.2 386.0h0M648.5 386.4h0M648.9 387.1h0M692.5 384.4h0M692.6 384.5h0M692.7 383.8h0M692.8 383.9h0M692.9 384.6h0M693.0 384.6h0M693.1 384.5h0M693.2 384.2h0M693.3 384.3h0M693.4 384.4h0M693.5 382.1h0M693.6 381.3h0M693.7 381.3h0M693.8 382.7h0M693.9 382.3h0M694.0 383.6h0M694.1 383.7h0M694.2 381.0h0M694.3 379.7h0M694.4 384.7h0M694.5 381.3h0M694.6 379.3h0M694.7 384.5h0M694.8 384.5h0M694.9 379.7h0M695.0 377.1h0M695.1 376.9h0M695.2 377.4h0M695.3 383.2h0M695.4 382.8h0M695.5 383.1h0M695.6 379.0h0M695.7 376.6h0M695.8 376.4h0M695.9 384.1h0M696.0 384.3h0M696.1 379.2h0M696.2 373.4h0M696.3 376.8h0M696.4 381.8h0M696.5 373.3h0M696.6 375.4h0M696.7 384.3h0M696.8 374.1h0M696.9 371.8h0M697.0 377.8h0M697.1 373.6h0M697.2 380.9h0M697.3 379.2h0M697.4 380.5h0M697.5 380.7h0M697.6 374.4h0M697.7 381.3h0M697.8 376.9h0M697.9 380.6h0M698.0 383.2h0M698.1 383.1h0M698.2 381.3h0M698.3 384.9h0M698.4 384.8h0M698.5 378.7h0M698.6 383.8h0M698.7 381.9h0M698.8 383.8h0M698.9 381.4h0M699.0 383.9h0M699.1 384.5h0M699.2 383.7h0M699.3 383.5h0M699.4 384.7h0M699.5 383.1h0M704.0 383.0h0" fill="none" stroke="#ff00ff" stroke-width="4.0" stroke-linecap="round"/><path d="M738.5 369.5L738.5 371.5" fill="none" stroke="#ff0000" stroke-width="4.0" stroke-linecap="round" stroke-linejoin="round"/><path d="M207.7 357.4h0M207.7 359.0h0M207.7 363.4h0M207.5 386.9h0M207.6 382.0h0M207.8 376.5h0M207.8 381.8h0M208.0 381.9h0M208.1 389.7h0M208.3 375.4h0M208.3 380.9h0M208.4 375.5h0M208.5 382.7h0M208.7 378.4h0M208.8 375.3h0M209.0 385.0h0M213.0 321.8h0M213.0 338.4h0M213.5 343.8h0M213.5 348.0h0M212.5 355.1h0M212.5 380.7h0M212.7 375.8h0M212.7 359.0h0M212.8 380.2h0M212.9 373.5h0M213.0 354.4h0M213.0 365.0h0M213.1 372.8h0M213.2 353.9h0M213.3 372.2h0M213.4 359.8h0M213.5 380.6h0M213.6 382.7h0M213.6 389.2h0M213.7 379.9h0M213.8 371.4h0M213.9 384.3h0M213.9 386.8h0M214.0 387.6h0M214.1 361.3h0M214.2 359.2h0M214.3 387.3h0M214.3 379.6h0M214.4 377.5h0M214.5 360.8h0M214.6 376.4h0M214.6 380.3h0M214.8 381.0h0M214.8 363.3h0M214.9 357.0h0M215.0 362.2h0M209.4 387.5h0M209.6 382.8h0M209.8 381.8h0M210.0 384.9h0M210.2 383.2h0M210.5 381.1h0M210.7 385.2h0M210.9 381.5h0M211.0 389.1h0M211.3 381.2h0M211.4 388.3h0M211.8 385.7h0M211.8 386.1h0M212.1 390.5h0M212.3 383.1h0M212.6 387.6h0M212.8 383.8h0M213.0 387.6h0M216.4 388.3h0M216.8 387.2h0M217.0 387.9h0M217.3 388.7h0M223.4 386.6h0M223.6 386.6h0M224.0 388.9h0M224.0 385.4h0M224.2 384.8h0M224.6 389.1h0M224.8 385.5h0M224.9 389.6h0M225.2 387.9h0M225.3 385.0h0M225.5 390.2h0M225.8 386.7h0M226.0 390.1h0M226.2 388.3h0M226.3 387.8h0M226.5 388.0h0M231.5 389.6h0M231.8 390.1h0M231.8 390.3h0M232.1 383.9h0M232.3 386.8h0M232.5 381.9h0M232.8 381.7h0M233.0 382.4h0M233.1 386.8h0M233.2 390.4h0M233.6 390.1h0M233.7 379.8h0M234.0 390.1h0M234.2 381.1h0M234.2 375.6h0M234.4 384.4h0M234.6 380.0h0M234.9 381.9h0M235.1 385.5h0M235.2 373.2h0M235.5 372.1h0M235.8 382.3h0M235.8 375.0h0M236.0 389.1h0M236.4 376.3h0M236.5 370.4h0M236.7 387.4h0M236.8 369.9h0M237.1 388.7h0M237.3 380.1h0M237.5 371.6h0M237.6 377.1h0M237.9 372.9h0M238.0 380.9h0M238.3 382.6h0M238.6 379.9h0M238.6 372.7h0M238.9 374.7h0M239.1 383.9h0M239.4 374.7h0M239.6 380.8h0M239.8 390.2h0M239.9 385.8h0M240.0 381.0h0M239.7 385.0h0M329.5 390.3h0M329.8 389.1h0M330.0 389.3h0M330.5 388.1h0M330.6 389.5h0M330.9 390.5h0M331.3 387.6h0M335.0 390.4h0M335.1 390.5h0M335.4 390.2h0M335.6 390.1h0M335.7 389.7h0M336.1 389.9h0M336.3 389.4h0M336.5 389.4h0M336.7 389.3h0M336.8 389.4h0M337.0 389.2h0M337.3 389.5h0M337.4 389.4h0M337.5 390.5h0M337.9 389.0h0M338.0 389.8h0M338.1 390.1h0M338.4 390.1h0M338.6 388.1h0M338.8 387.5h0M339.0 388.8h0M339.2 387.4h0M339.4 390.2h0M339.6 387.3h0M339.9 390.4h0M339.9 387.7h0M340.1 390.2h0M340.3 390.1h0M340.7 385.2h0M340.7 390.5h0M341.1 384.8h0M341.2 389.6h0M341.4 384.8h0M341.6 388.2h0M341.8 389.9h0M341.9 385.9h0M342.3 388.4h0M342.4 385.4h0M342.6 385.3h0M342.7 385.8h0M342.9 390.4h0M343.2 389.8h0M343.5 384.4h0M343.6 388.3h0M343.8 384.7h0M344.0 385.4h0M344.1 389.4h0M344.5 389.4h0M344.6 380.4h0M344.7 374.8h0M345.0 380.5h0M345.1 382.5h0M345.4 371.1h0M345.6 362.5h0M345.7 363.2h0M346.0 380.1h0M346.3 363.4h0M346.4 359.3h0M346.6 357.7h0M346.9 360.0h0M347.0 357.4h0M347.1 373.0h0M347.4 358.3h0M347.6 384.8h0M347.7 385.1h0M348.1 358.6h0M347.9 375.3h0M348.3 351.3h0M348.4 354.6h0M348.7 352.0h0M348.8 370.2h0M349.1 348.6h0M349.4 366.9h0M349.6 370.1h0M349.8 348.6h0M350.1 364.8h0M350.2 354.8h0M350.4 348.2h0M350.7 369.9h0M350.9 363.6h0M351.0 355.5h0M351.2 346.6h0M351.5 353.5h0M351.7 349.0h0M351.9 342.6h0M352.2 347.5h0M352.4 366.8h0M352.5 349.0h0M352.9 358.0h0M353.0 364.3h0M353.4 345.4h0M353.6 361.4h0M353.6 357.9h0M354.0 341.9h0M353.9 372.3h0M354.3 338.6h0M354.4 374.2h0M354.6 344.9h0M354.7 357.5h0M355.0 371.7h0M355.1 373.4h0M355.3 346.0h0M355.6 347.7h0M355.7 363.0h0M356.1 374.8h0M356.3 356.8h0M356.4 361.0h0M356.5 373.7h0M356.7 365.6h0M357.1 365.2h0M357.3 363.4h0M357.4 365.0h0M357.6 370.9h0M357.8 377.8h0M358.0 368.9h0M358.2 368.3h0M358.5 370.3h0M354.0 336.0h0M346.3 352.0h0M358.6 389.4h0M358.7 386.1h0M359.2 389.9h0M359.5 387.6h0M359.8 387.2h0M359.9 390.0h0M360.4 390.3h0M360.6 388.1h0M360.9 388.6h0M361.2 390.3h0M361.5 390.0h0M361.9 390.3h0M362.0 386.8h0M362.5 389.3h0M362.6 390.1h0M362.9 386.2h0M363.3 388.6h0M363.6 386.8h0M364.0 387.1h0M364.5 385.6h0M364.7 385.7h0M364.9 371.4h0M365.1 370.9h0M365.4 385.6h0M365.7 371.8h0M365.9 370.2h0M366.0 372.8h0M366.2 371.5h0M366.5 375.3h0M366.7 372.0h0M366.8 386.2h0M367.2 370.8h0M367.3 376.7h0M367.5 383.6h0M367.7 377.7h0M368.1 385.5h0M368.2 378.1h0M368.4 366.3h0M368.7 382.5h0M368.9 379.6h0M369.2 383.4h0M369.4 374.9h0M369.5 371.6h0M369.8 375.0h0M370.0 386.7h0M370.0 390.3h0M370.2 388.4h0M370.6 383.2h0M370.9 384.9h0M371.2 389.4h0M371.6 390.6h0M371.7 389.7h0M372.0 387.2h0M372.5 387.1h0M372.8 385.3h0M372.9 386.6h0M373.9 371.6h0M374.1 375.7h0M374.4 367.8h0M374.6 369.0h0M374.8 386.1h0M375.1 364.2h0M375.2 363.0h0M375.4 384.9h0M375.5 356.2h0M375.9 381.2h0M376.0 374.2h0M376.3 366.5h0M376.3 387.9h0M376.5 377.8h0M376.7 379.7h0M377.0 372.6h0M377.1 376.4h0M377.4 384.1h0M377.7 359.1h0M377.7 362.4h0M378.0 387.5h0M378.2 384.8h0M378.4 390.2h0M375.5 298.3h0M375.5 306.3h0M375.0 317.0h0M377.5 333.0h0M377.5 341.0h0M375.0 346.0h0M375.0 351.0h0M379.6 388.9h0M379.8 390.6h0M380.0 387.9h0M380.3 388.0h0M380.6 388.1h0M381.0 387.3h0M381.2 388.4h0M381.7 388.5h0M381.8 389.7h0M382.2 388.1h0M382.6 389.9h0M382.9 389.0h0M383.2 388.4h0M383.3 387.4h0M383.8 388.6h0M384.0 388.7h0M384.3 390.2h0M384.7 387.9h0M384.8 387.4h0M385.3 387.5h0M385.4 389.6h0M385.8 389.4h0M391.0 390.6h0M396.6 390.6h0M396.7 390.6h0M394.8 390.6h0M394.1 386.8h0M395.1 387.4h0M393.6 383.8h0M394.7 385.8h0M397.1 382.5h0M396.3 381.9h0M394.4 382.6h0M394.6 383.1h0M395.4 378.1h0M395.9 381.5h0M396.9 377.2h0M396.5 378.5h0M395.8 374.1h0M395.7 373.2h0M395.6 374.4h0M397.5 373.6h0M396.6 371.1h0M396.3 371.8h0M396.0 371.3h0M399.0 368.7h0M396.6 370.6h0M397.2 369.5h0M399.4 367.9h0M398.1 368.3h0M396.4 367.4h0M398.6 363.6h0M396.5 363.9h0M399.9 361.7h0M400.1 360.4h0M400.7 359.5h0M400.1 357.0h0M397.6 359.9h0M398.1 357.7h0M398.8 356.8h0M398.6 357.0h0M399.0 352.9h0M401.3 356.3h0M400.4 353.9h0M400.6 352.1h0M400.2 350.1h0M401.8 350.5h0M399.1 348.1h0M399.0 347.3h0M398.9 347.2h0M399.5 347.5h0M402.9 345.3h0M400.0 343.6h0M399.7 345.0h0M403.1 344.6h0M400.5 340.8h0M403.1 339.3h0M396.0 390.0h0M396.3 389.8h0M396.5 380.8h0M396.8 387.3h0M397.3 382.0h0M397.4 380.7h0M397.8 379.5h0M398.0 386.8h0M398.3 383.7h0M398.7 386.7h0M399.0 384.9h0M399.4 379.1h0M399.5 381.6h0M400.0 379.8h0M403.5 390.6h0M400.5 336.0h0M406.4 367.6h0M406.7 354.0h0M406.9 373.0h0M407.1 366.9h0M407.3 378.4h0M407.6 364.8h0M407.6 375.4h0M408.0 371.9h0M408.0 374.1h0M408.3 359.1h0M408.4 370.4h0M408.7 366.7h0M408.8 357.8h0M409.0 373.7h0M409.3 376.6h0M409.5 362.7h0M409.8 348.4h0M409.8 355.9h0M410.0 376.6h0M410.4 370.8h0M410.6 376.0h0M410.7 355.4h0M410.9 346.8h0M411.1 378.6h0M411.2 346.9h0M411.4 357.0h0M415.5 348.0h0M418.5 332.0h0M430.0 335.0h0M429.5 340.0h0M430.0 345.5h0M429.5 350.5h0M430.5 312.0h0M429.5 322.0h0M429.5 355.0h0M429.5 358.5h0M399.5 333.1h0M399.7 317.8h0M400.0 284.0h0M400.4 290.7h0M400.6 317.1h0M401.0 316.5h0M401.3 280.2h0M404.6 336.8h0M404.7 235.6h0M404.9 234.4h0M405.1 236.9h0M405.5 218.3h0M405.7 205.5h0M405.9 301.4h0M406.0 305.2h0M406.2 311.5h0M406.4 331.2h0M406.7 270.8h0M406.8 310.7h0M407.1 211.2h0M407.4 305.0h0M409.5 199.2h0M409.6 197.3h0M409.9 189.9h0M410.1 193.1h0M410.3 197.4h0M410.4 192.5h0M410.7 192.0h0M410.9 219.4h0M411.1 189.8h0M411.3 198.2h0M411.4 186.4h0M411.7 203.7h0M411.8 200.9h0M412.1 186.4h0M412.2 239.4h0M412.6 200.1h0M412.8 288.7h0M413.0 201.5h0M413.1 193.4h0M413.3 228.9h0M413.5 193.2h0M413.7 188.0h0M413.9 208.9h0M414.2 190.9h0M414.3 192.8h0M414.4 204.5h0M414.7 194.2h0M414.8 339.9h0M415.0 221.6h0M415.2 212.5h0M415.2 194.5h0M415.4 189.8h0M415.6 188.4h0M415.8 215.5h0M415.8 187.4h0M416.0 191.0h0M416.2 190.3h0M416.3 186.6h0M416.6 185.1h0M416.7 186.5h0M416.9 186.0h0M416.9 194.3h0M417.0 189.6h0M417.2 197.8h0M417.4 339.4h0M417.7 191.2h0M417.7 188.1h0M418.1 292.1h0M418.2 189.5h0M418.4 219.5h0M418.6 197.6h0M418.9 187.8h0M419.1 196.2h0M419.3 203.1h0M419.3 252.6h0M419.6 202.4h0M419.9 194.9h0M420.0 204.7h0M420.2 235.2h0M420.4 242.2h0M420.6 197.7h0M420.8 200.2h0M421.0 211.6h0M421.3 194.7h0M421.5 203.5h0M421.5 200.9h0M421.8 202.9h0M422.1 197.7h0M422.2 193.1h0M422.4 205.8h0M422.6 207.5h0M422.8 207.7h0M423.1 208.6h0M423.3 206.4h0M423.4 215.7h0M423.5 207.2h0M423.8 209.7h0M424.0 200.9h0M423.9 270.3h0M424.3 207.8h0M424.4 197.1h0M424.7 185.3h0M424.8 187.0h0M425.0 215.2h0M425.1 198.9h0M425.5 186.1h0M425.6 181.3h0M425.7 195.8h0M426.0 184.9h0M426.2 188.6h0M426.3 192.0h0M426.7 184.7h0M426.7 275.1h0M426.9 236.1h0M427.3 179.0h0M427.4 246.2h0M427.5 190.6h0M427.8 183.2h0M428.0 181.9h0M428.3 186.8h0M428.3 192.2h0M428.7 182.3h0M428.7 180.6h0M428.9 190.8h0M429.3 190.5h0M429.4 188.4h0M429.7 189.5h0M429.9 191.3h0M430.1 194.1h0M430.2 195.1h0M430.4 199.1h0M430.6 205.0h0M430.9 262.4h0M431.0 203.8h0M431.2 200.7h0M431.3 192.2h0M431.6 198.1h0M431.9 276.2h0M431.9 240.9h0M432.1 191.7h0M432.5 259.3h0M432.6 184.3h0M432.9 182.3h0M433.1 179.3h0M432.9 186.6h0M433.2 189.5h0M433.5 183.4h0M433.6 188.6h0M433.7 187.8h0M433.9 193.4h0M434.2 181.6h0M434.3 187.6h0M434.5 205.9h0M434.8 186.3h0M434.9 183.2h0M435.2 202.2h0M435.4 192.0h0M435.4 180.1h0M435.6 187.2h0M435.8 185.5h0M436.1 209.3h0M436.2 187.6h0M436.4 190.2h0M436.7 200.2h0M436.8 192.3h0M437.1 194.2h0M437.3 194.1h0M437.3 194.0h0M437.6 195.2h0M437.8 203.5h0M437.9 234.1h0M438.2 193.2h0M438.2 197.0h0M438.5 195.2h0M438.6 202.3h0M438.8 193.1h0M439.2 239.5h0M439.2 195.7h0M439.4 238.6h0M439.7 200.3h0M439.8 232.3h0M440.1 195.6h0M440.3 222.6h0M440.4 224.3h0M440.7 192.0h0M440.8 187.2h0M441.0 187.3h0M441.2 198.9h0M441.4 184.8h0M441.5 199.2h0M441.7 192.7h0M442.0 199.5h0M442.1 198.4h0M442.3 197.1h0M442.5 193.0h0M442.7 199.0h0M442.9 210.4h0M443.1 201.5h0M443.3 204.9h0M443.5 199.1h0M443.6 236.5h0M443.9 202.6h0M444.0 238.1h0M444.2 213.4h0M444.4 205.8h0M444.5 210.9h0M444.8 219.1h0M445.0 200.9h0M445.1 195.2h0M445.4 237.0h0M445.6 239.5h0M445.8 206.0h0M445.8 190.1h0M446.1 189.3h0M446.2 183.2h0M446.3 185.7h0M446.5 182.8h0M446.5 189.1h0M446.7 182.3h0M446.8 182.5h0M447.0 186.9h0M447.2 185.2h0M447.4 182.8h0M447.5 184.8h0M447.6 181.4h0M447.8 186.6h0M448.0 184.4h0M448.1 179.2h0M448.2 178.6h0M448.5 184.7h0M448.6 181.6h0M448.8 182.1h0M448.9 179.5h0M449.0 180.3h0M449.2 183.2h0M449.2 176.9h0M449.5 181.1h0M449.6 178.0h0M449.7 181.7h0M449.9 178.6h0M450.1 178.4h0M450.2 180.0h0M450.4 183.3h0M450.5 182.5h0M450.6 183.3h0M450.9 179.2h0M450.9 176.9h0M451.0 182.1h0M451.2 179.5h0M451.5 184.0h0M451.6 180.1h0M451.7 183.4h0M451.8 182.2h0M451.9 186.7h0M452.2 187.1h0M452.4 184.1h0M452.4 181.9h0M452.6 188.2h0M452.7 190.0h0M452.9 183.0h0M453.0 186.9h0M453.3 190.2h0M453.4 186.2h0M453.5 191.6h0M453.7 189.6h0M453.8 191.5h0M454.0 195.3h0M454.2 190.1h0M454.3 190.5h0M454.5 195.7h0M454.5 189.1h0M454.7 196.5h0M454.9 190.6h0M455.0 187.8h0M455.2 190.1h0M455.3 189.2h0M455.4 190.8h0M455.5 185.3h0M455.8 191.9h0M455.9 187.4h0M456.1 187.6h0M456.1 188.4h0M456.3 186.5h0M456.5 188.4h0M456.7 183.0h0M456.8 181.0h0M457.0 178.0h0M457.0 182.4h0M457.2 178.9h0M457.5 182.8h0M457.5 177.0h0M457.7 176.4h0M457.8 181.5h0M458.0 180.4h0M458.1 179.2h0M458.3 176.4h0M458.4 176.6h0M458.6 173.5h0M458.8 177.6h0M458.9 173.6h0M459.0 179.6h0M459.2 174.6h0M459.3 177.1h0M459.5 178.1h0M459.6 184.3h0M459.9 177.1h0M459.9 183.5h0M460.2 180.5h0M460.2 181.8h0M460.4 179.7h0M460.5 186.1h0M460.7 185.3h0M460.8 185.8h0M461.0 190.2h0M461.1 191.0h0M461.4 187.5h0M461.5 187.6h0M461.7 190.5h0M461.8 193.5h0M461.9 195.8h0M462.0 196.8h0M462.3 198.9h0M462.4 199.8h0M462.5 194.0h0M462.7 195.2h0M462.9 199.9h0M463.0 202.3h0M463.1 199.0h0M463.3 202.2h0M463.4 203.2h0M463.6 200.6h0M463.7 195.1h0M463.9 200.8h0M464.0 198.1h0M464.2 198.0h0M464.4 193.5h0M464.4 199.0h0M464.5 194.9h0M464.8 192.4h0M464.9 199.1h0M465.1 191.5h0M465.2 191.5h0M465.4 195.2h0M465.5 188.8h0M465.7 188.5h0M465.8 190.5h0M465.9 190.4h0M466.2 194.2h0M466.3 191.8h0M466.5 191.9h0M466.6 195.5h0M466.7 195.6h0M466.8 193.9h0M467.1 190.7h0M467.2 195.7h0M467.4 192.0h0M467.5 196.2h0M467.6 197.6h0M467.7 200.1h0M467.9 198.6h0M468.1 204.2h0M468.1 201.3h0M468.4 207.8h0M468.5 210.1h0M467.5 207.0h0M468.0 222.5h0M468.0 238.0h0M467.7 269.0h0M467.7 281.0h0M472.0 283.0h0M467.7 286.0h0M467.7 289.0h0M478.0 301.5h0M468.0 308.0h0M468.2 332.6h0M468.6 307.3h0M468.7 345.1h0M469.0 341.6h0M469.3 356.8h0M469.5 308.9h0M469.7 337.8h0M469.8 325.5h0M470.3 317.3h0M470.3 350.5h0M470.7 343.0h0M471.0 312.5h0M471.1 314.6h0M471.3 317.5h0M471.7 307.9h0M471.9 312.2h0M472.1 357.9h0M472.3 356.2h0M472.7 328.8h0M472.9 302.3h0M473.1 316.5h0M473.3 350.1h0M473.6 328.0h0M473.7 302.3h0M474.1 340.5h0M470.0 378.4h0M470.6 381.4h0M471.1 379.1h0M471.9 372.1h0M472.2 378.8h0M473.1 360.6h0M473.7 370.1h0M474.2 379.6h0M474.5 374.0h0M475.5 376.3h0M476.0 372.5h0M474.5 316.5h0M474.7 301.8h0M475.0 339.0h0M475.3 341.9h0M475.8 305.6h0M476.1 358.4h0M476.4 351.7h0M476.5 314.0h0M476.9 322.2h0M477.2 343.7h0M477.6 333.4h0M477.7 316.1h0M478.2 339.3h0M478.3 315.8h0M478.7 359.9h0M479.0 325.3h0M479.4 358.3h0M479.6 338.5h0M479.9 352.6h0M480.3 338.3h0M480.6 346.7h0M480.9 349.9h0M479.0 370.8h0M479.2 373.5h0M479.5 355.8h0M480.0 356.6h0M480.1 382.8h0M480.4 365.5h0M480.7 380.5h0M481.0 361.3h0M481.4 388.2h0M481.6 388.0h0M482.1 352.2h0M482.4 389.2h0M482.7 370.2h0M483.0 354.8h0M483.3 383.1h0M483.6 364.6h0M483.9 361.7h0M484.1 379.7h0M484.3 369.1h0M484.6 362.6h0M484.9 360.6h0M485.2 387.2h0M485.5 382.0h0M485.9 364.1h0M486.3 365.8h0M486.4 382.8h0M486.7 363.2h0M487.1 369.3h0M487.4 382.0h0M486.0 332.9h0M486.1 301.7h0M486.5 312.6h0M486.9 303.5h0M487.2 300.4h0M487.3 300.7h0M487.7 301.8h0M488.1 322.6h0M488.3 332.5h0M488.4 297.4h0M488.8 304.8h0M489.0 298.0h0M489.3 333.7h0M489.5 327.0h0M490.0 307.4h0M490.3 320.3h0M490.4 320.4h0M490.8 317.6h0M491.2 307.4h0M491.2 321.4h0M491.7 305.0h0M491.8 318.4h0M492.2 312.6h0M492.5 304.4h0M492.7 299.6h0M492.9 318.9h0M493.3 328.9h0M493.5 335.9h0M493.7 338.2h0M494.1 340.1h0M494.3 335.4h0M494.6 340.6h0M495.0 317.2h0M495.2 318.5h0M495.5 294.0h0M495.9 301.9h0M496.0 341.1h0M496.3 334.5h0M496.8 295.9h0M496.9 293.7h0M497.3 309.6h0M497.5 311.1h0M497.6 293.3h0M498.1 324.7h0M498.3 325.5h0M498.5 343.5h0M498.8 337.7h0M499.0 294.2h0M499.4 294.2h0M499.6 328.0h0M499.9 294.6h0M500.2 309.2h0M500.7 306.6h0M500.8 294.9h0M501.0 332.1h0M501.5 301.7h0M501.7 314.1h0M501.8 312.8h0M502.4 345.6h0M502.5 317.2h0M502.8 305.5h0M503.2 312.5h0M503.3 301.3h0M503.7 336.7h0M504.0 339.7h0M504.2 310.5h0M504.5 304.4h0M504.9 324.9h0M504.9 302.6h0M505.2 325.0h0M505.5 303.4h0M506.0 319.6h0M506.3 313.3h0M506.4 323.4h0M506.7 319.1h0M489.8 248.0h0M494.0 245.0h0M490.0 254.5h0M493.5 259.6h0M490.0 262.0h0M494.5 263.6h0M497.5 263.0h0M494.0 269.0h0M494.0 272.0h0M494.0 275.0h0M496.0 279.0h0M502.0 280.6h0M497.5 282.0h0M492.0 283.6h0M472.6 283.0h0M490.7 286.7h0M491.7 291.9h0M493.0 291.9h0M494.5 293.4h0M496.1 286.8h0M497.5 291.3h0M498.6 290.7h0M499.6 290.0h0M499.2 370.9h0M499.5 370.6h0M499.7 350.4h0M500.3 356.7h0M501.0 372.9h0M501.2 356.5h0M501.8 356.1h0M502.2 367.3h0M502.5 370.9h0M503.1 367.2h0M503.6 362.5h0M504.2 353.9h0M504.3 363.7h0M504.7 351.0h0M505.1 349.5h0M505.9 362.0h0M506.0 364.1h0M506.5 356.9h0M507.1 371.6h0M507.5 366.4h0M507.9 362.2h0M508.4 364.7h0M508.7 356.7h0M509.4 369.6h0M510.0 355.2h0M503.2 385.8h0M503.7 379.8h0M504.1 389.7h0M504.6 380.8h0M504.9 380.3h0M505.1 379.8h0M505.6 388.0h0M506.2 379.7h0M506.6 387.7h0M506.9 389.0h0M507.6 382.5h0M507.7 383.2h0M508.5 383.4h0M508.9 383.4h0M509.1 390.3h0M509.9 379.7h0M510.1 381.8h0M510.7 379.7h0M511.1 387.8h0M511.7 386.6h0M511.8 381.0h0M512.3 385.3h0M512.7 381.5h0M513.4 380.4h0M513.7 385.9h0M514.2 381.8h0M514.8 385.2h0M514.5 311.1h0M514.8 289.4h0M515.1 339.9h0M515.4 285.1h0M515.7 330.2h0M516.0 306.8h0M516.3 340.5h0M516.6 300.8h0M516.9 316.0h0M517.3 320.6h0M517.5 344.1h0M517.9 299.5h0M518.2 339.9h0M518.5 326.9h0M518.6 304.4h0M519.1 291.5h0M519.3 283.0h0M513.0 377.4h0M513.2 384.8h0M513.5 383.8h0M513.9 350.9h0M514.2 383.4h0M514.4 374.8h0M514.9 357.6h0M515.0 351.7h0M515.3 380.3h0M515.7 363.5h0M516.1 370.7h0M516.2 382.7h0M516.6 389.7h0M517.0 346.9h0M517.1 361.8h0M517.6 365.5h0M517.7 384.1h0M518.0 364.4h0M518.3 375.4h0M518.8 348.2h0M519.1 355.8h0M521.0 389.8h0M521.2 367.0h0M521.9 375.6h0M522.0 389.3h0M522.6 390.3h0M522.9 387.5h0M523.5 371.2h0M523.7 388.9h0M524.2 389.6h0M515.7 377.6h0M516.7 386.7h0M517.4 384.4h0M517.7 379.9h0M518.5 386.0h0M518.9 380.6h0M519.5 384.9h0M520.4 383.9h0M520.6 388.1h0M521.4 377.1h0M522.1 382.4h0M522.7 384.8h0M523.1 388.7h0M523.9 379.8h0M524.3 390.0h0M524.8 389.2h0M525.5 383.5h0M526.4 383.7h0M526.5 377.1h0M527.7 387.9h0M527.8 388.9h0M528.6 388.5h0M529.1 377.7h0M530.1 380.1h0M530.5 386.6h0M531.2 379.3h0M531.8 389.9h0M532.1 390.2h0M532.8 376.9h0M533.4 378.9h0M533.9 376.9h0M527.8 351.3h0M528.2 353.6h0M528.6 366.6h0M529.0 389.2h0M529.4 371.1h0M529.7 352.5h0M530.0 355.8h0M530.4 378.9h0M530.9 355.4h0M531.1 369.8h0M531.4 377.5h0M530.6 279.3h0M528.0 316.3h0M528.3 316.9h0M528.6 316.4h0M529.0 316.7h0M529.8 315.4h0M530.2 316.2h0M530.4 316.8h0M531.0 316.6h0M536.9 355.7h0M537.3 379.4h0M537.6 390.5h0M537.8 382.9h0M538.2 387.5h0M538.6 386.7h0M538.9 373.6h0M539.1 357.4h0M539.5 356.4h0M539.7 383.5h0M540.1 371.4h0M540.4 366.5h0M540.6 384.7h0M541.0 368.3h0M541.3 385.9h0M541.5 353.7h0M541.7 377.2h0M542.0 376.8h0M542.3 360.6h0M542.8 362.3h0M543.1 366.0h0M558.1 370.6h0M558.1 353.1h0M558.4 351.5h0M558.6 353.1h0M558.9 362.0h0M559.0 339.4h0M559.2 366.4h0M559.4 338.7h0M559.5 346.4h0M559.9 383.7h0M560.0 375.2h0M560.3 367.2h0M560.3 380.4h0M560.5 363.8h0M560.7 332.1h0M561.1 341.7h0M561.1 344.7h0M561.4 379.1h0M561.6 343.0h0M561.8 368.6h0M562.0 369.3h0M562.1 384.2h0M562.5 335.1h0M563.0 389.7h0M563.4 389.8h0M563.7 390.4h0M563.8 390.6h0M569.6 389.3h0M569.7 388.6h0M569.9 388.2h0M570.2 389.3h0M570.2 388.4h0M570.5 387.7h0M570.8 384.7h0M571.0 385.1h0M571.1 385.8h0M571.2 384.6h0M571.4 388.5h0M571.6 390.4h0M571.9 387.1h0M572.2 387.5h0M572.2 384.2h0M572.5 385.7h0M572.8 382.0h0M573.0 389.2h0M573.1 388.5h0M573.2 386.1h0M573.4 382.8h0M573.8 384.4h0M573.9 388.5h0M574.2 389.9h0M574.3 385.2h0M574.4 385.9h0M574.8 382.6h0M574.9 388.9h0M575.2 387.7h0M575.3 389.0h0M575.6 390.0h0M575.8 383.6h0M576.0 384.5h0M576.0 388.3h0M576.3 384.8h0M576.5 385.1h0M576.8 384.3h0M576.9 383.9h0M577.1 389.8h0M577.3 386.6h0M577.4 387.7h0M577.7 386.0h0M577.9 386.0h0M578.1 387.6h0M578.3 387.5h0M578.4 390.2h0M576.5 369.3h0M576.6 332.1h0M576.8 355.7h0M576.8 382.5h0M577.0 355.2h0M577.1 335.0h0M577.3 339.3h0M577.4 308.9h0M577.4 337.0h0M577.6 335.1h0M577.7 365.7h0M577.9 369.0h0M578.0 322.6h0M578.0 314.8h0M578.2 352.3h0M578.3 312.3h0M578.4 351.4h0M590.1 390.5h0M590.1 390.2h0M590.4 386.6h0M590.7 385.9h0M590.7 387.8h0M591.1 387.8h0M591.1 384.2h0M591.4 387.6h0M591.7 384.9h0M591.8 384.4h0M592.0 387.7h0M592.2 388.0h0M592.4 381.3h0M592.5 384.6h0M592.9 389.2h0M593.0 389.6h0M593.2 388.0h0M593.4 384.8h0M593.7 382.4h0M593.7 382.6h0M594.0 386.4h0M594.2 382.9h0M594.4 384.1h0M594.7 390.3h0M594.9 386.9h0M595.1 382.7h0M595.3 384.5h0M595.4 388.3h0M595.5 383.1h0M595.8 386.8h0M595.9 388.3h0M596.1 387.8h0M596.4 389.3h0M596.6 385.1h0M596.8 387.7h0M597.0 386.9h0M601.0 300.5h0M601.0 304.0h0M596.7 383.2h0M598.0 382.7h0M597.8 381.3h0M598.1 379.4h0M597.7 378.7h0M598.2 378.9h0M597.3 376.5h0M597.2 374.5h0M597.5 373.6h0M598.4 373.3h0M598.0 372.2h0M598.4 371.9h0M597.5 369.9h0M597.3 368.6h0M597.7 366.0h0M598.1 364.8h0M597.6 363.8h0M597.8 364.8h0M598.5 363.4h0M598.2 362.2h0M597.2 359.8h0M597.5 358.1h0M598.4 356.4h0M599.1 356.3h0M598.1 356.2h0M597.5 353.6h0M597.9 351.6h0M597.6 350.9h0M598.0 350.3h0M597.7 348.0h0M598.6 348.1h0M599.0 346.0h0M597.8 344.9h0M599.4 343.9h0M599.5 341.7h0M599.1 340.7h0M599.5 340.6h0M598.8 339.6h0M599.1 338.5h0M598.4 336.9h0M598.2 334.1h0M599.8 334.6h0M599.5 331.6h0M600.0 330.2h0M599.4 329.4h0M599.9 329.7h0M598.9 327.8h0M600.3 326.6h0M599.2 325.4h0M599.8 324.3h0M599.7 323.5h0M600.2 321.4h0M599.2 320.9h0M599.9 319.9h0M599.5 317.5h0M599.3 317.3h0M600.0 314.2h0M600.5 313.7h0M601.1 311.7h0M600.5 310.1h0M601.1 310.3h0M600.6 307.8h0M601.6 307.7h0M601.1 306.8h0M602.0 306.9h0M601.8 309.4h0M602.1 310.3h0M602.2 310.7h0M600.6 310.9h0M600.8 314.3h0M601.8 315.1h0M600.7 315.3h0M601.5 315.7h0M601.7 317.1h0M602.2 318.0h0M602.4 320.2h0M602.9 321.0h0M601.2 323.4h0M602.2 323.0h0M602.9 326.3h0M601.8 327.7h0M601.4 327.2h0M603.2 328.3h0M602.0 330.6h0M603.1 330.9h0M601.5 332.9h0M603.4 333.1h0M602.6 335.8h0M602.8 335.9h0M602.8 337.8h0M602.7 338.1h0M602.4 339.3h0M603.8 341.4h0M603.6 341.1h0M602.8 343.6h0M603.2 343.9h0M603.0 344.9h0M602.6 346.2h0M603.0 348.5h0M603.6 349.9h0M602.7 349.8h0M603.3 353.0h0M602.6 353.4h0M604.0 353.3h0M603.7 355.8h0M604.3 355.9h0M603.1 358.2h0M605.1 360.3h0M604.8 360.2h0M604.9 361.7h0M604.3 362.1h0M604.3 365.3h0M605.6 365.5h0M604.0 367.5h0M604.6 368.8h0M604.2 370.1h0M604.2 369.7h0M604.8 371.3h0M604.5 373.0h0M606.1 374.4h0M605.7 373.1h0M605.1 372.5h0M606.9 371.1h0M606.7 369.3h0M605.3 369.2h0M606.1 367.6h0M606.8 366.0h0M605.7 363.6h0M606.9 362.9h0M606.8 360.8h0M607.7 360.4h0M608.0 358.8h0M607.9 357.3h0M608.1 356.1h0M607.4 355.1h0M606.5 355.2h0M608.2 352.9h0M608.1 352.8h0M607.5 350.8h0M607.5 350.8h0M608.0 348.5h0M608.8 347.6h0M608.6 347.3h0M608.7 345.6h0M608.2 343.8h0M609.0 343.6h0M608.1 341.9h0M608.4 338.8h0M608.5 339.6h0M608.6 337.6h0M608.9 336.6h0M609.0 334.1h0M608.8 334.6h0M608.7 332.5h0M609.8 330.4h0M608.7 329.4h0M609.3 329.0h0M608.8 326.9h0M608.9 327.4h0M609.9 325.3h0M609.9 323.8h0M609.4 322.8h0M610.3 321.5h0M610.2 320.2h0M609.5 318.3h0M610.4 317.1h0M610.0 316.6h0M610.2 314.8h0M611.7 312.5h0M611.1 311.2h0M612.2 311.7h0M611.8 312.4h0M612.4 312.2h0M613.1 313.8h0M614.1 316.3h0M615.5 316.1h0M614.3 318.3h0M614.3 317.7h0M615.1 315.3h0M616.5 314.9h0M616.5 312.0h0M616.0 309.9h0M618.4 311.1h0M618.0 312.5h0M617.6 314.5h0M618.2 316.9h0M619.1 317.4h0M618.9 318.9h0M618.5 319.6h0M618.7 320.0h0M618.4 322.1h0M619.8 323.1h0M619.4 325.0h0M619.4 325.4h0M619.2 326.6h0M618.6 328.2h0M619.9 329.6h0M618.8 330.8h0M619.5 332.2h0M619.0 333.6h0M620.8 335.5h0M619.9 337.0h0M619.4 338.1h0M620.6 338.7h0M620.1 338.8h0M620.5 341.2h0M621.5 343.7h0M620.8 343.2h0M621.2 344.1h0M620.4 345.4h0M620.6 347.6h0M620.4 348.0h0M621.5 351.2h0M620.1 351.8h0M621.7 352.6h0M620.9 353.2h0M621.2 355.6h0M620.9 354.9h0M620.8 357.0h0M621.8 359.4h0M620.8 360.3h0M622.4 359.6h0M622.3 362.4h0M621.9 362.3h0M621.7 365.5h0M621.7 366.7h0M621.8 366.1h0M622.6 367.0h0M621.2 368.9h0M621.3 369.9h0M621.6 370.6h0M622.5 372.5h0M621.8 374.7h0M621.4 374.4h0M622.8 375.5h0M622.8 377.7h0M622.6 379.0h0M623.1 379.5h0M622.9 380.4h0M623.2 382.8h0M622.7 383.1h0M623.0 384.8h0M623.4 384.2h0M623.3 381.5h0M623.6 381.9h0M623.9 378.8h0M624.1 377.9h0M624.4 378.1h0M624.1 376.8h0M623.8 374.1h0M624.2 373.1h0M623.5 371.1h0M624.7 371.1h0M624.2 369.2h0M624.8 368.1h0M624.7 366.6h0M624.8 365.1h0M624.9 363.9h0M624.8 362.8h0M625.7 361.6h0M624.4 361.6h0M625.7 359.4h0M624.9 359.5h0M624.4 356.1h0M625.7 357.0h0M625.9 354.3h0M624.8 352.7h0M625.1 352.7h0M626.5 352.3h0M626.0 350.8h0M625.2 349.4h0M626.2 347.9h0M625.9 345.8h0M626.3 345.2h0M626.1 344.2h0M625.4 342.6h0M627.2 340.2h0M625.8 341.0h0M625.5 339.1h0M625.6 338.7h0M626.2 336.1h0M626.6 334.9h0M626.9 333.1h0M626.8 333.4h0M626.5 332.0h0M627.9 329.3h0M627.7 328.0h0M627.6 329.1h0M627.2 326.4h0M627.8 326.0h0M626.9 324.4h0M626.5 322.2h0M628.4 325.1h0M627.6 324.2h0M628.5 325.8h0M627.8 326.6h0M627.4 327.9h0M627.5 330.5h0M628.4 330.4h0M627.7 332.8h0M628.7 333.9h0M628.2 334.2h0M627.8 337.0h0M628.5 337.9h0M627.8 340.0h0M628.8 340.0h0M627.6 340.8h0M629.0 343.6h0M628.5 344.5h0M628.9 344.2h0M628.0 346.9h0M628.5 346.3h0M629.1 348.7h0M628.6 349.7h0M628.8 351.5h0M629.9 351.1h0M629.7 353.4h0M628.7 355.2h0M630.1 356.2h0M629.0 356.2h0M629.4 356.8h0M629.5 358.6h0M629.1 360.9h0M629.5 361.5h0M630.8 362.4h0M629.6 365.1h0M630.0 366.6h0M631.3 366.0h0M631.1 367.6h0M630.4 368.7h0M630.5 371.9h0M630.6 370.9h0M631.0 370.0h0M631.1 370.4h0M632.2 369.7h0M632.9 366.1h0M632.8 365.4h0M633.3 365.1h0M634.4 362.3h0M635.2 361.6h0M635.3 363.0h0M635.7 363.8h0M635.6 365.0h0M636.0 367.1h0M636.8 369.2h0M635.3 369.5h0M636.6 369.8h0M636.8 371.7h0M636.9 373.2h0M636.4 375.5h0M637.3 374.8h0M638.2 376.2h0M636.6 379.2h0M638.4 379.5h0M638.5 380.6h0M638.3 380.9h0M638.1 383.9h0M638.6 383.8h0M638.9 385.9h0M639.5 387.5h0M638.2 388.2h0M639.4 387.3h0M641.2 386.9h0M640.3 385.4h0M640.9 383.5h0M641.7 383.8h0M641.4 382.6h0M643.2 381.2h0M642.9 379.9h0M642.7 379.5h0M642.7 375.9h0M644.2 378.4h0M644.2 378.4h0M645.9 380.0h0M646.7 381.2h0M647.7 382.7h0M646.6 383.3h0M647.1 383.5h0M648.4 386.5h0M647.7 387.7h0M610.3 322.4h0M610.5 310.7h0M611.7 329.9h0M612.8 313.6h0M613.0 330.3h0M613.7 316.2h0M614.6 317.2h0M615.9 322.1h0M616.7 330.1h0M617.6 311.3h0M618.0 319.1h0M619.2 321.9h0M621.0 356.2h0M621.9 383.4h0M622.9 363.2h0M624.1 350.3h0M625.2 348.0h0M626.3 379.7h0M626.7 381.0h0M628.4 383.1h0M628.6 373.9h0M630.2 377.4h0M631.1 351.7h0M631.7 353.5h0M641.9 386.5h0M642.3 383.2h0M642.7 383.8h0M643.0 381.3h0M643.2 383.9h0M643.4 381.4h0M643.9 380.3h0M644.0 379.8h0M644.4 385.2h0M644.7 382.5h0M644.9 385.8h0M645.3 386.2h0M645.5 382.4h0M645.9 380.8h0M646.1 380.4h0M646.5 385.8h0M646.9 385.6h0M647.1 382.9h0M647.4 383.4h0M647.6 384.8h0M648.1 386.2h0M648.2 385.4h0M648.5 385.8h0M648.9 386.7h0M692.5 381.7h0M692.6 381.9h0M692.7 380.9h0M692.8 381.0h0M692.9 382.1h0M693.0 382.1h0M693.1 381.9h0M693.2 381.5h0M693.3 381.5h0M693.4 381.7h0M693.5 378.5h0M693.6 377.3h0M693.7 377.3h0M693.8 379.4h0M693.9 378.7h0M694.0 380.6h0M694.1 380.8h0M694.2 376.8h0M694.3 375.0h0M694.4 382.2h0M694.5 377.3h0M694.6 374.5h0M694.7 381.9h0M694.8 381.9h0M694.9 375.0h0M695.0 371.3h0M695.1 371.0h0M695.2 371.7h0M695.3 380.0h0M695.4 379.4h0M695.5 379.9h0M695.6 374.1h0M695.7 370.6h0M695.8 370.4h0M695.9 381.4h0M696.0 381.6h0M696.1 374.4h0M696.2 366.0h0M696.3 370.9h0M696.4 378.0h0M696.5 365.9h0M696.6 368.9h0M696.7 381.6h0M696.8 367.0h0M696.9 363.7h0M697.0 372.3h0M697.1 366.3h0M697.2 376.7h0M697.3 374.3h0M697.4 376.1h0M697.5 376.4h0M697.6 367.4h0M697.7 377.4h0M697.8 371.0h0M697.9 376.4h0M698.0 380.1h0M698.1 379.9h0M698.2 377.3h0M698.3 382.5h0M698.4 382.3h0M698.5 373.6h0M698.6 380.9h0M698.7 378.1h0M698.8 380.9h0M698.9 377.4h0M699.0 381.0h0M699.1 381.8h0M699.2 380.7h0M699.3 380.5h0M699.4 382.2h0M699.5 379.9h0M704.0 380.0h0" fill="none" stroke="#ff0000" stroke-width="4.0" stroke-linecap="round"/><path d="M240.5 379.4h0" fill="none" stroke="#ff00ff" stroke-width="4.0" stroke-linecap="round"/><path d="M127.89 19.5V394.0M230.68 19.5V394.0M333.46 19.5V394.0M436.25 19.5V394.0M539.04 19.5V394.0M641.82 19.5V394.0M744.61 19.5V394.0M76.5 340.50H796.0M76.5 287.00H796.0M76.5 233.50H796.0M76.5 180.00H796.0M76.5 126.50H796.0M76.5 73.00H796.0" stroke="#222" stroke-width="1.3" stroke-dasharray="1.3 2.17" fill="none"/><path d="M76.5 380.62h10.5M76.5 367.25h10.5M76.5 353.88h10.5M76.5 340.50h21.5M76.5 327.12h10.5M76.5 313.75h10.5M76.5 300.38h10.5M76.5 287.00h21.5M76.5 273.62h10.5M76.5 260.25h10.5M76.5 246.87h10.5M76.5 233.50h21.5M76.5 220.12h10.5M76.5 206.75h10.5M76.5 193.38h10.5M76.5 180.00h21.5M76.5 166.62h10.5M76.5 153.25h10.5M76.5 139.87h10.5M76.5 126.50h21.5M76.5 113.12h10.5M76.5 99.75h10.5M76.5 86.37h10.5M76.5 73.00h21.5M76.5 59.62h10.5M76.5 46.25h10.5M76.5 32.87h10.5M102.20 394.0v-6M127.89 394.0v-11.5M153.59 394.0v-6M179.29 394.0v-6M204.98 394.0v-6M230.68 394.0v-11.5M256.38 394.0v-6M282.07 394.0v-6M307.77 394.0v-6M333.46 394.0v-11.5M359.16 394.0v-6M384.86 394.0v-6M410.55 394.0v-6M436.25 394.0v-11.5M461.95 394.0v-6M487.64 394.0v-6M513.34 394.0v-6M539.04 394.0v-11.5M564.73 394.0v-6M590.43 394.0v-6M616.12 394.0v-6M641.82 394.0v-11.5M667.52 394.0v-6M693.21 394.0v-6M718.91 394.0v-6M744.61 394.0v-11.5M770.30 394.0v-6" stroke="#333" stroke-width="1.3" fill="none"/><rect x="76.5" y="19.5" width="719.5" height="374.5" stroke="#333" stroke-width="1.5" fill="none"/><text x="71.5" y="401.60" text-anchor="end" class="t">0</text><text x="71.5" y="348.10" text-anchor="end" class="t">0.2</text><text x="71.5" y="294.60" text-anchor="end" class="t">0.4</text><text x="71.5" y="241.10" text-anchor="end" class="t">0.6</text><text x="71.5" y="187.60" text-anchor="end" class="t">0.8</text><text x="71.5" y="134.10" text-anchor="end" class="t">1</text><text x="71.5" y="80.60" text-anchor="end" class="t">1.2</text><text x="71.5" y="27.10" text-anchor="end" class="t">1.4</text><text x="126.89" y="410.5" text-anchor="middle" class="t">06:00</text><text x="229.68" y="410.5" text-anchor="middle" class="t">08:00</text><text x="332.46" y="410.5" text-anchor="middle" class="t">10:00</text><text x="435.25" y="410.5" text-anchor="middle" class="t">12:00</text><text x="538.04" y="410.5" text-anchor="middle" class="t">14:00</text><text x="640.82" y="410.5" text-anchor="middle" class="t">16:00</text><text x="743.61" y="410.5" text-anchor="middle" class="t">18:00</text><text x="440.5" y="427.5" text-anchor="middle" class="t">Time (JST)</text><text x="796" y="427.5" text-anchor="end" class="t">2007-07-09</text><text transform="translate(15.5 19.5) rotate(-90)" text-anchor="end" class="t">Intensity (a.u.)</text><rect x="176" y="10.3" width="14.5" height="2.4" fill="#0000ff"/><text x="197" y="15.5" class="t" fill="#0000ff">368nm</text><rect x="321" y="10.3" width="14.5" height="2.4" fill="#00ff00"/><text x="342" y="15.5" class="t" fill="#00ff00">500nm</text><rect x="465.5" y="10.3" width="14.5" height="2.4" fill="#ff00ff"/><text x="486.5" y="15.5" class="t" fill="#ff00ff">675nm</text><rect x="609.5" y="10.3" width="14.5" height="2.4" fill="#ff0000"/><text x="630.5" y="15.5" class="t" fill="#ff0000">778nm</text></svg></body></html>
